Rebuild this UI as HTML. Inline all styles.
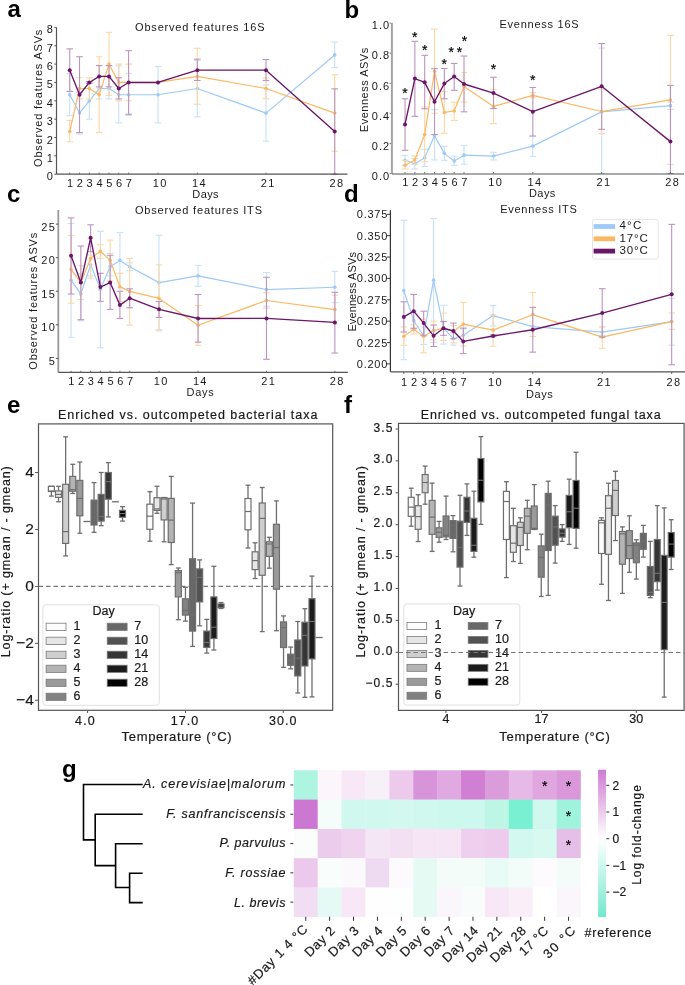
<!DOCTYPE html>
<html><head><meta charset="utf-8"><title>Figure</title>
<style>
html,body{margin:0;padding:0;background:#fff;}
body{width:685px;height:985px;overflow:hidden;}
svg{display:block;font-family:"Liberation Sans", sans-serif;will-change:transform;}
</style></head>
<body>
<svg width="685" height="985" viewBox="0 0 685 985" fill="#1a1a1a">
<rect x="0" y="0" width="685" height="985" fill="#fff"/>
<text x="7.50" y="17.20" font-size="24" text-anchor="start" font-weight="bold" fill="#000" >a</text>
<text x="344.50" y="17.50" font-size="24" text-anchor="start" font-weight="bold" fill="#000" >b</text>
<text x="7.00" y="201.90" font-size="24" text-anchor="start" font-weight="bold" fill="#000" >c</text>
<text x="344.00" y="201.90" font-size="24" text-anchor="start" font-weight="bold" fill="#000" >d</text>
<text x="7.00" y="412.60" font-size="24" text-anchor="start" font-weight="bold" fill="#000" >e</text>
<text x="344.00" y="412.70" font-size="24" text-anchor="start" font-weight="bold" fill="#000" >f</text>
<text x="62.00" y="776.60" font-size="24" text-anchor="start" font-weight="bold" fill="#000" >g</text>
<line x1="69.72" y1="115.66" x2="69.72" y2="73.46" stroke="#c8e0f9" stroke-width="1.1" />
<line x1="66.42" y1="115.66" x2="73.02" y2="115.66" stroke="#c8e0f9" stroke-width="1.1" />
<line x1="66.42" y1="73.46" x2="73.02" y2="73.46" stroke="#c8e0f9" stroke-width="1.1" />
<line x1="79.53" y1="133.83" x2="79.53" y2="92.18" stroke="#c8e0f9" stroke-width="1.1" />
<line x1="76.23" y1="133.83" x2="82.83" y2="133.83" stroke="#c8e0f9" stroke-width="1.1" />
<line x1="76.23" y1="92.18" x2="82.83" y2="92.18" stroke="#c8e0f9" stroke-width="1.1" />
<line x1="89.34" y1="119.15" x2="89.34" y2="82.45" stroke="#c8e0f9" stroke-width="1.1" />
<line x1="86.05" y1="119.15" x2="92.64" y2="119.15" stroke="#c8e0f9" stroke-width="1.1" />
<line x1="86.05" y1="82.45" x2="92.64" y2="82.45" stroke="#c8e0f9" stroke-width="1.1" />
<line x1="99.16" y1="98.96" x2="99.16" y2="77.50" stroke="#c8e0f9" stroke-width="1.1" />
<line x1="95.86" y1="98.96" x2="102.46" y2="98.96" stroke="#c8e0f9" stroke-width="1.1" />
<line x1="95.86" y1="77.50" x2="102.46" y2="77.50" stroke="#c8e0f9" stroke-width="1.1" />
<line x1="108.97" y1="98.96" x2="108.97" y2="77.50" stroke="#c8e0f9" stroke-width="1.1" />
<line x1="105.67" y1="98.96" x2="112.27" y2="98.96" stroke="#c8e0f9" stroke-width="1.1" />
<line x1="105.67" y1="77.50" x2="112.27" y2="77.50" stroke="#c8e0f9" stroke-width="1.1" />
<line x1="118.79" y1="122.82" x2="118.79" y2="65.93" stroke="#c8e0f9" stroke-width="1.1" />
<line x1="115.49" y1="122.82" x2="122.09" y2="122.82" stroke="#c8e0f9" stroke-width="1.1" />
<line x1="115.49" y1="65.93" x2="122.09" y2="65.93" stroke="#c8e0f9" stroke-width="1.1" />
<line x1="128.60" y1="115.48" x2="128.60" y2="73.46" stroke="#c8e0f9" stroke-width="1.1" />
<line x1="125.30" y1="115.48" x2="131.91" y2="115.48" stroke="#c8e0f9" stroke-width="1.1" />
<line x1="125.30" y1="73.46" x2="131.91" y2="73.46" stroke="#c8e0f9" stroke-width="1.1" />
<line x1="158.05" y1="122.82" x2="158.05" y2="66.49" stroke="#c8e0f9" stroke-width="1.1" />
<line x1="154.75" y1="122.82" x2="161.35" y2="122.82" stroke="#c8e0f9" stroke-width="1.1" />
<line x1="154.75" y1="66.49" x2="161.35" y2="66.49" stroke="#c8e0f9" stroke-width="1.1" />
<line x1="197.31" y1="116.76" x2="197.31" y2="60.43" stroke="#c8e0f9" stroke-width="1.1" />
<line x1="194.01" y1="116.76" x2="200.61" y2="116.76" stroke="#c8e0f9" stroke-width="1.1" />
<line x1="194.01" y1="60.43" x2="200.61" y2="60.43" stroke="#c8e0f9" stroke-width="1.1" />
<line x1="266.01" y1="141.17" x2="266.01" y2="84.84" stroke="#c8e0f9" stroke-width="1.1" />
<line x1="262.71" y1="141.17" x2="269.31" y2="141.17" stroke="#c8e0f9" stroke-width="1.1" />
<line x1="262.71" y1="84.84" x2="269.31" y2="84.84" stroke="#c8e0f9" stroke-width="1.1" />
<line x1="334.72" y1="67.59" x2="334.72" y2="42.08" stroke="#c8e0f9" stroke-width="1.1" />
<line x1="331.42" y1="67.59" x2="338.02" y2="67.59" stroke="#c8e0f9" stroke-width="1.1" />
<line x1="331.42" y1="42.08" x2="338.02" y2="42.08" stroke="#c8e0f9" stroke-width="1.1" />
<polyline points="69.72,94.74 79.53,113.09 89.34,100.80 99.16,88.51 108.97,88.51 118.79,94.74 128.60,94.74 158.05,94.74 197.31,88.51 266.01,113.09 334.72,54.92" fill="none" stroke="#9dcaf6" stroke-width="1.2" stroke-linejoin="round"/>
<circle cx="69.72" cy="94.74" r="1.8" fill="#9dcaf6"/>
<circle cx="79.53" cy="113.09" r="1.8" fill="#9dcaf6"/>
<circle cx="89.34" cy="100.80" r="1.8" fill="#9dcaf6"/>
<circle cx="99.16" cy="88.51" r="1.8" fill="#9dcaf6"/>
<circle cx="108.97" cy="88.51" r="1.8" fill="#9dcaf6"/>
<circle cx="118.79" cy="94.74" r="1.8" fill="#9dcaf6"/>
<circle cx="128.60" cy="94.74" r="1.8" fill="#9dcaf6"/>
<circle cx="158.05" cy="94.74" r="1.8" fill="#9dcaf6"/>
<circle cx="197.31" cy="88.51" r="1.8" fill="#9dcaf6"/>
<circle cx="266.01" cy="113.09" r="1.8" fill="#9dcaf6"/>
<circle cx="334.72" cy="54.92" r="1.8" fill="#9dcaf6"/>
<line x1="69.72" y1="141.72" x2="69.72" y2="120.43" stroke="#fcd7a4" stroke-width="1.1" />
<line x1="66.42" y1="141.72" x2="73.02" y2="141.72" stroke="#fcd7a4" stroke-width="1.1" />
<line x1="66.42" y1="120.43" x2="73.02" y2="120.43" stroke="#fcd7a4" stroke-width="1.1" />
<line x1="79.53" y1="98.96" x2="79.53" y2="77.68" stroke="#fcd7a4" stroke-width="1.1" />
<line x1="76.23" y1="98.96" x2="82.83" y2="98.96" stroke="#fcd7a4" stroke-width="1.1" />
<line x1="76.23" y1="77.68" x2="82.83" y2="77.68" stroke="#fcd7a4" stroke-width="1.1" />
<line x1="89.34" y1="98.96" x2="89.34" y2="77.68" stroke="#fcd7a4" stroke-width="1.1" />
<line x1="86.05" y1="98.96" x2="92.64" y2="98.96" stroke="#fcd7a4" stroke-width="1.1" />
<line x1="86.05" y1="77.68" x2="92.64" y2="77.68" stroke="#fcd7a4" stroke-width="1.1" />
<line x1="99.16" y1="132.55" x2="99.16" y2="56.76" stroke="#fcd7a4" stroke-width="1.1" />
<line x1="95.86" y1="132.55" x2="102.46" y2="132.55" stroke="#fcd7a4" stroke-width="1.1" />
<line x1="95.86" y1="56.76" x2="102.46" y2="56.76" stroke="#fcd7a4" stroke-width="1.1" />
<line x1="108.97" y1="95.48" x2="108.97" y2="32.35" stroke="#fcd7a4" stroke-width="1.1" />
<line x1="105.67" y1="95.48" x2="112.27" y2="95.48" stroke="#fcd7a4" stroke-width="1.1" />
<line x1="105.67" y1="32.35" x2="112.27" y2="32.35" stroke="#fcd7a4" stroke-width="1.1" />
<line x1="118.79" y1="100.80" x2="118.79" y2="64.10" stroke="#fcd7a4" stroke-width="1.1" />
<line x1="115.49" y1="100.80" x2="122.09" y2="100.80" stroke="#fcd7a4" stroke-width="1.1" />
<line x1="115.49" y1="64.10" x2="122.09" y2="64.10" stroke="#fcd7a4" stroke-width="1.1" />
<line x1="128.60" y1="100.80" x2="128.60" y2="64.10" stroke="#fcd7a4" stroke-width="1.1" />
<line x1="125.30" y1="100.80" x2="131.91" y2="100.80" stroke="#fcd7a4" stroke-width="1.1" />
<line x1="125.30" y1="64.10" x2="131.91" y2="64.10" stroke="#fcd7a4" stroke-width="1.1" />
<line x1="197.31" y1="104.29" x2="197.31" y2="48.32" stroke="#fcd7a4" stroke-width="1.1" />
<line x1="194.01" y1="104.29" x2="200.61" y2="104.29" stroke="#fcd7a4" stroke-width="1.1" />
<line x1="194.01" y1="48.32" x2="200.61" y2="48.32" stroke="#fcd7a4" stroke-width="1.1" />
<line x1="266.01" y1="98.78" x2="266.01" y2="78.05" stroke="#fcd7a4" stroke-width="1.1" />
<line x1="262.71" y1="98.78" x2="269.31" y2="98.78" stroke="#fcd7a4" stroke-width="1.1" />
<line x1="262.71" y1="78.05" x2="269.31" y2="78.05" stroke="#fcd7a4" stroke-width="1.1" />
<line x1="334.72" y1="151.26" x2="334.72" y2="74.74" stroke="#fcd7a4" stroke-width="1.1" />
<line x1="331.42" y1="151.26" x2="338.02" y2="151.26" stroke="#fcd7a4" stroke-width="1.1" />
<line x1="331.42" y1="74.74" x2="338.02" y2="74.74" stroke="#fcd7a4" stroke-width="1.1" />
<polyline points="69.72,131.44 79.53,88.51 89.34,88.51 99.16,94.74 108.97,64.10 118.79,82.45 128.60,82.45 158.05,82.45 197.31,76.39 266.01,88.51 334.72,113.09" fill="none" stroke="#fbb862" stroke-width="1.2" stroke-linejoin="round"/>
<circle cx="69.72" cy="131.44" r="1.8" fill="#fbb862"/>
<circle cx="79.53" cy="88.51" r="1.8" fill="#fbb862"/>
<circle cx="89.34" cy="88.51" r="1.8" fill="#fbb862"/>
<circle cx="99.16" cy="94.74" r="1.8" fill="#fbb862"/>
<circle cx="108.97" cy="64.10" r="1.8" fill="#fbb862"/>
<circle cx="118.79" cy="82.45" r="1.8" fill="#fbb862"/>
<circle cx="128.60" cy="82.45" r="1.8" fill="#fbb862"/>
<circle cx="158.05" cy="82.45" r="1.8" fill="#fbb862"/>
<circle cx="197.31" cy="76.39" r="1.8" fill="#fbb862"/>
<circle cx="266.01" cy="88.51" r="1.8" fill="#fbb862"/>
<circle cx="334.72" cy="113.09" r="1.8" fill="#fbb862"/>
<line x1="69.72" y1="91.44" x2="69.72" y2="48.87" stroke="#bc94be" stroke-width="1.1" />
<line x1="66.42" y1="91.44" x2="73.02" y2="91.44" stroke="#bc94be" stroke-width="1.1" />
<line x1="66.42" y1="48.87" x2="73.02" y2="48.87" stroke="#bc94be" stroke-width="1.1" />
<line x1="79.53" y1="132.55" x2="79.53" y2="56.76" stroke="#bc94be" stroke-width="1.1" />
<line x1="76.23" y1="132.55" x2="82.83" y2="132.55" stroke="#bc94be" stroke-width="1.1" />
<line x1="76.23" y1="56.76" x2="82.83" y2="56.76" stroke="#bc94be" stroke-width="1.1" />
<line x1="89.34" y1="83.37" x2="89.34" y2="81.53" stroke="#bc94be" stroke-width="1.1" />
<line x1="86.05" y1="83.37" x2="92.64" y2="83.37" stroke="#bc94be" stroke-width="1.1" />
<line x1="86.05" y1="81.53" x2="92.64" y2="81.53" stroke="#bc94be" stroke-width="1.1" />
<line x1="99.16" y1="86.85" x2="99.16" y2="65.57" stroke="#bc94be" stroke-width="1.1" />
<line x1="95.86" y1="86.85" x2="102.46" y2="86.85" stroke="#bc94be" stroke-width="1.1" />
<line x1="95.86" y1="65.57" x2="102.46" y2="65.57" stroke="#bc94be" stroke-width="1.1" />
<line x1="108.97" y1="86.85" x2="108.97" y2="65.57" stroke="#bc94be" stroke-width="1.1" />
<line x1="105.67" y1="86.85" x2="112.27" y2="86.85" stroke="#bc94be" stroke-width="1.1" />
<line x1="105.67" y1="65.57" x2="112.27" y2="65.57" stroke="#bc94be" stroke-width="1.1" />
<line x1="118.79" y1="98.96" x2="118.79" y2="77.68" stroke="#bc94be" stroke-width="1.1" />
<line x1="115.49" y1="98.96" x2="122.09" y2="98.96" stroke="#bc94be" stroke-width="1.1" />
<line x1="115.49" y1="77.68" x2="122.09" y2="77.68" stroke="#bc94be" stroke-width="1.1" />
<line x1="128.60" y1="114.20" x2="128.60" y2="50.70" stroke="#bc94be" stroke-width="1.1" />
<line x1="125.30" y1="114.20" x2="131.91" y2="114.20" stroke="#bc94be" stroke-width="1.1" />
<line x1="125.30" y1="50.70" x2="131.91" y2="50.70" stroke="#bc94be" stroke-width="1.1" />
<line x1="197.31" y1="80.43" x2="197.31" y2="59.15" stroke="#bc94be" stroke-width="1.1" />
<line x1="194.01" y1="80.43" x2="200.61" y2="80.43" stroke="#bc94be" stroke-width="1.1" />
<line x1="194.01" y1="59.15" x2="200.61" y2="59.15" stroke="#bc94be" stroke-width="1.1" />
<line x1="266.01" y1="80.61" x2="266.01" y2="59.51" stroke="#bc94be" stroke-width="1.1" />
<line x1="262.71" y1="80.61" x2="269.31" y2="80.61" stroke="#bc94be" stroke-width="1.1" />
<line x1="262.71" y1="59.51" x2="269.31" y2="59.51" stroke="#bc94be" stroke-width="1.1" />
<line x1="334.72" y1="174.20" x2="334.72" y2="88.87" stroke="#bc94be" stroke-width="1.1" />
<line x1="331.42" y1="174.20" x2="338.02" y2="174.20" stroke="#bc94be" stroke-width="1.1" />
<line x1="331.42" y1="88.87" x2="338.02" y2="88.87" stroke="#bc94be" stroke-width="1.1" />
<polyline points="69.72,70.16 79.53,94.74 89.34,82.45 99.16,76.39 108.97,76.39 118.79,88.51 128.60,82.45 158.05,82.45 197.31,70.16 266.01,70.16 334.72,131.44" fill="none" stroke="#6b1669" stroke-width="1.35" stroke-linejoin="round"/>
<circle cx="69.72" cy="70.16" r="2.0" fill="#6b1669"/>
<circle cx="79.53" cy="94.74" r="2.0" fill="#6b1669"/>
<circle cx="89.34" cy="82.45" r="2.0" fill="#6b1669"/>
<circle cx="99.16" cy="76.39" r="2.0" fill="#6b1669"/>
<circle cx="108.97" cy="76.39" r="2.0" fill="#6b1669"/>
<circle cx="118.79" cy="88.51" r="2.0" fill="#6b1669"/>
<circle cx="128.60" cy="82.45" r="2.0" fill="#6b1669"/>
<circle cx="158.05" cy="82.45" r="2.0" fill="#6b1669"/>
<circle cx="197.31" cy="70.16" r="2.0" fill="#6b1669"/>
<circle cx="266.01" cy="70.16" r="2.0" fill="#6b1669"/>
<circle cx="334.72" cy="131.44" r="2.0" fill="#6b1669"/>
<line x1="56.50" y1="27.40" x2="56.50" y2="174.20" stroke="#555" stroke-width="1.2" />
<line x1="56.50" y1="174.20" x2="347.50" y2="174.20" stroke="#555" stroke-width="1.2" />
<line x1="54.30" y1="174.20" x2="56.50" y2="174.20" stroke="#555" stroke-width="1" />
<text x="52.80" y="180.20" font-size="11" text-anchor="end" >0</text>
<line x1="54.30" y1="155.85" x2="56.50" y2="155.85" stroke="#555" stroke-width="1" />
<text x="52.80" y="161.85" font-size="11" text-anchor="end" >1</text>
<line x1="54.30" y1="137.50" x2="56.50" y2="137.50" stroke="#555" stroke-width="1" />
<text x="52.80" y="143.50" font-size="11" text-anchor="end" >2</text>
<line x1="54.30" y1="119.15" x2="56.50" y2="119.15" stroke="#555" stroke-width="1" />
<text x="52.80" y="125.15" font-size="11" text-anchor="end" >3</text>
<line x1="54.30" y1="100.80" x2="56.50" y2="100.80" stroke="#555" stroke-width="1" />
<text x="52.80" y="106.80" font-size="11" text-anchor="end" >4</text>
<line x1="54.30" y1="82.45" x2="56.50" y2="82.45" stroke="#555" stroke-width="1" />
<text x="52.80" y="88.45" font-size="11" text-anchor="end" >5</text>
<line x1="54.30" y1="64.10" x2="56.50" y2="64.10" stroke="#555" stroke-width="1" />
<text x="52.80" y="70.10" font-size="11" text-anchor="end" >6</text>
<line x1="54.30" y1="45.75" x2="56.50" y2="45.75" stroke="#555" stroke-width="1" />
<text x="52.80" y="51.75" font-size="11" text-anchor="end" >7</text>
<line x1="54.30" y1="27.40" x2="56.50" y2="27.40" stroke="#555" stroke-width="1" />
<text x="52.80" y="33.40" font-size="11" text-anchor="end" >8</text>
<line x1="69.72" y1="172.60" x2="69.72" y2="174.20" stroke="#555" stroke-width="0.8" />
<text x="70.02" y="186.70" font-size="11" text-anchor="middle" >1</text>
<line x1="79.53" y1="172.60" x2="79.53" y2="174.20" stroke="#555" stroke-width="0.8" />
<text x="79.83" y="186.70" font-size="11" text-anchor="middle" >2</text>
<line x1="89.34" y1="172.60" x2="89.34" y2="174.20" stroke="#555" stroke-width="0.8" />
<text x="89.64" y="186.70" font-size="11" text-anchor="middle" >3</text>
<line x1="99.16" y1="172.60" x2="99.16" y2="174.20" stroke="#555" stroke-width="0.8" />
<text x="99.46" y="186.70" font-size="11" text-anchor="middle" >4</text>
<line x1="108.97" y1="172.60" x2="108.97" y2="174.20" stroke="#555" stroke-width="0.8" />
<text x="109.27" y="186.70" font-size="11" text-anchor="middle" >5</text>
<line x1="118.79" y1="172.60" x2="118.79" y2="174.20" stroke="#555" stroke-width="0.8" />
<text x="119.09" y="186.70" font-size="11" text-anchor="middle" >6</text>
<line x1="128.60" y1="172.60" x2="128.60" y2="174.20" stroke="#555" stroke-width="0.8" />
<text x="128.91" y="186.70" font-size="11" text-anchor="middle" >7</text>
<line x1="158.05" y1="172.60" x2="158.05" y2="174.20" stroke="#555" stroke-width="0.8" />
<text x="159.65" y="186.70" font-size="11" text-anchor="middle" textLength="13.60" lengthAdjust="spacing" >10</text>
<line x1="197.31" y1="172.60" x2="197.31" y2="174.20" stroke="#555" stroke-width="0.8" />
<text x="198.91" y="186.70" font-size="11" text-anchor="middle" textLength="13.60" lengthAdjust="spacing" >14</text>
<line x1="266.01" y1="172.60" x2="266.01" y2="174.20" stroke="#555" stroke-width="0.8" />
<text x="267.62" y="186.70" font-size="11" text-anchor="middle" textLength="13.60" lengthAdjust="spacing" >21</text>
<line x1="334.72" y1="172.60" x2="334.72" y2="174.20" stroke="#555" stroke-width="0.8" />
<text x="336.32" y="186.70" font-size="11" text-anchor="middle" textLength="13.60" lengthAdjust="spacing" >28</text>
<text x="135.00" y="30.60" font-size="11" text-anchor="start" textLength="129.50" lengthAdjust="spacing" >Observed features 16S</text>
<text x="192.30" y="197.50" font-size="11" text-anchor="start" textLength="26.30" lengthAdjust="spacing" >Days</text>
<text x="42.00" y="166.90" font-size="11" text-anchor="start" textLength="137.20" lengthAdjust="spacing" transform="rotate(-90 42.00 166.90)" >Observed features ASVs</text>
<line x1="405.03" y1="165.23" x2="405.03" y2="155.45" stroke="#c8e0f9" stroke-width="1.1" />
<line x1="401.73" y1="165.23" x2="408.33" y2="165.23" stroke="#c8e0f9" stroke-width="1.1" />
<line x1="401.73" y1="155.45" x2="408.33" y2="155.45" stroke="#c8e0f9" stroke-width="1.1" />
<line x1="414.86" y1="168.99" x2="414.86" y2="158.46" stroke="#c8e0f9" stroke-width="1.1" />
<line x1="411.56" y1="168.99" x2="418.16" y2="168.99" stroke="#c8e0f9" stroke-width="1.1" />
<line x1="411.56" y1="158.46" x2="418.16" y2="158.46" stroke="#c8e0f9" stroke-width="1.1" />
<line x1="424.69" y1="166.43" x2="424.69" y2="149.29" stroke="#c8e0f9" stroke-width="1.1" />
<line x1="421.39" y1="166.43" x2="427.99" y2="166.43" stroke="#c8e0f9" stroke-width="1.1" />
<line x1="421.39" y1="149.29" x2="427.99" y2="149.29" stroke="#c8e0f9" stroke-width="1.1" />
<line x1="434.52" y1="159.96" x2="434.52" y2="109.58" stroke="#c8e0f9" stroke-width="1.1" />
<line x1="431.22" y1="159.96" x2="437.82" y2="159.96" stroke="#c8e0f9" stroke-width="1.1" />
<line x1="431.22" y1="109.58" x2="437.82" y2="109.58" stroke="#c8e0f9" stroke-width="1.1" />
<line x1="444.35" y1="160.26" x2="444.35" y2="146.43" stroke="#c8e0f9" stroke-width="1.1" />
<line x1="441.05" y1="160.26" x2="447.65" y2="160.26" stroke="#c8e0f9" stroke-width="1.1" />
<line x1="441.05" y1="146.43" x2="447.65" y2="146.43" stroke="#c8e0f9" stroke-width="1.1" />
<line x1="454.18" y1="165.38" x2="454.18" y2="156.20" stroke="#c8e0f9" stroke-width="1.1" />
<line x1="450.88" y1="165.38" x2="457.48" y2="165.38" stroke="#c8e0f9" stroke-width="1.1" />
<line x1="450.88" y1="156.20" x2="457.48" y2="156.20" stroke="#c8e0f9" stroke-width="1.1" />
<line x1="464.01" y1="164.18" x2="464.01" y2="145.38" stroke="#c8e0f9" stroke-width="1.1" />
<line x1="460.71" y1="164.18" x2="467.31" y2="164.18" stroke="#c8e0f9" stroke-width="1.1" />
<line x1="460.71" y1="145.38" x2="467.31" y2="145.38" stroke="#c8e0f9" stroke-width="1.1" />
<line x1="493.50" y1="159.96" x2="493.50" y2="152.29" stroke="#c8e0f9" stroke-width="1.1" />
<line x1="490.20" y1="159.96" x2="496.80" y2="159.96" stroke="#c8e0f9" stroke-width="1.1" />
<line x1="490.20" y1="152.29" x2="496.80" y2="152.29" stroke="#c8e0f9" stroke-width="1.1" />
<line x1="532.82" y1="156.35" x2="532.82" y2="135.90" stroke="#c8e0f9" stroke-width="1.1" />
<line x1="529.52" y1="156.35" x2="536.12" y2="156.35" stroke="#c8e0f9" stroke-width="1.1" />
<line x1="529.52" y1="135.90" x2="536.12" y2="135.90" stroke="#c8e0f9" stroke-width="1.1" />
<line x1="601.63" y1="173.50" x2="601.63" y2="48.07" stroke="#c8e0f9" stroke-width="1.1" />
<line x1="598.33" y1="173.50" x2="604.93" y2="173.50" stroke="#c8e0f9" stroke-width="1.1" />
<line x1="598.33" y1="48.07" x2="604.93" y2="48.07" stroke="#c8e0f9" stroke-width="1.1" />
<line x1="670.44" y1="109.43" x2="670.44" y2="102.06" stroke="#c8e0f9" stroke-width="1.1" />
<line x1="667.14" y1="109.43" x2="673.74" y2="109.43" stroke="#c8e0f9" stroke-width="1.1" />
<line x1="667.14" y1="102.06" x2="673.74" y2="102.06" stroke="#c8e0f9" stroke-width="1.1" />
<polyline points="405.03,160.26 414.86,163.72 424.69,157.71 434.52,135.75 444.35,153.35 454.18,161.02 464.01,155.15 493.50,156.05 532.82,146.13 601.63,111.84 670.44,105.67" fill="none" stroke="#9dcaf6" stroke-width="1.2" stroke-linejoin="round"/>
<circle cx="405.03" cy="160.26" r="1.8" fill="#9dcaf6"/>
<circle cx="414.86" cy="163.72" r="1.8" fill="#9dcaf6"/>
<circle cx="424.69" cy="157.71" r="1.8" fill="#9dcaf6"/>
<circle cx="434.52" cy="135.75" r="1.8" fill="#9dcaf6"/>
<circle cx="444.35" cy="153.35" r="1.8" fill="#9dcaf6"/>
<circle cx="454.18" cy="161.02" r="1.8" fill="#9dcaf6"/>
<circle cx="464.01" cy="155.15" r="1.8" fill="#9dcaf6"/>
<circle cx="493.50" cy="156.05" r="1.8" fill="#9dcaf6"/>
<circle cx="532.82" cy="146.13" r="1.8" fill="#9dcaf6"/>
<circle cx="601.63" cy="111.84" r="1.8" fill="#9dcaf6"/>
<circle cx="670.44" cy="105.67" r="1.8" fill="#9dcaf6"/>
<line x1="405.03" y1="168.99" x2="405.03" y2="160.26" stroke="#fcd7a4" stroke-width="1.1" />
<line x1="401.73" y1="168.99" x2="408.33" y2="168.99" stroke="#fcd7a4" stroke-width="1.1" />
<line x1="401.73" y1="160.26" x2="408.33" y2="160.26" stroke="#fcd7a4" stroke-width="1.1" />
<line x1="414.86" y1="164.48" x2="414.86" y2="155.90" stroke="#fcd7a4" stroke-width="1.1" />
<line x1="411.56" y1="164.48" x2="418.16" y2="164.48" stroke="#fcd7a4" stroke-width="1.1" />
<line x1="411.56" y1="155.90" x2="418.16" y2="155.90" stroke="#fcd7a4" stroke-width="1.1" />
<line x1="424.69" y1="161.77" x2="424.69" y2="107.02" stroke="#fcd7a4" stroke-width="1.1" />
<line x1="421.39" y1="161.77" x2="427.99" y2="161.77" stroke="#fcd7a4" stroke-width="1.1" />
<line x1="421.39" y1="107.02" x2="427.99" y2="107.02" stroke="#fcd7a4" stroke-width="1.1" />
<line x1="434.52" y1="113.34" x2="434.52" y2="29.12" stroke="#fcd7a4" stroke-width="1.1" />
<line x1="431.22" y1="113.34" x2="437.82" y2="113.34" stroke="#fcd7a4" stroke-width="1.1" />
<line x1="431.22" y1="29.12" x2="437.82" y2="29.12" stroke="#fcd7a4" stroke-width="1.1" />
<line x1="444.35" y1="133.34" x2="444.35" y2="91.53" stroke="#fcd7a4" stroke-width="1.1" />
<line x1="441.05" y1="133.34" x2="447.65" y2="133.34" stroke="#fcd7a4" stroke-width="1.1" />
<line x1="441.05" y1="91.53" x2="447.65" y2="91.53" stroke="#fcd7a4" stroke-width="1.1" />
<line x1="454.18" y1="120.41" x2="454.18" y2="102.21" stroke="#fcd7a4" stroke-width="1.1" />
<line x1="450.88" y1="120.41" x2="457.48" y2="120.41" stroke="#fcd7a4" stroke-width="1.1" />
<line x1="450.88" y1="102.21" x2="457.48" y2="102.21" stroke="#fcd7a4" stroke-width="1.1" />
<line x1="464.01" y1="102.06" x2="464.01" y2="72.43" stroke="#fcd7a4" stroke-width="1.1" />
<line x1="460.71" y1="102.06" x2="467.31" y2="102.06" stroke="#fcd7a4" stroke-width="1.1" />
<line x1="460.71" y1="72.43" x2="467.31" y2="72.43" stroke="#fcd7a4" stroke-width="1.1" />
<line x1="493.50" y1="123.57" x2="493.50" y2="89.43" stroke="#fcd7a4" stroke-width="1.1" />
<line x1="490.20" y1="123.57" x2="496.80" y2="123.57" stroke="#fcd7a4" stroke-width="1.1" />
<line x1="490.20" y1="89.43" x2="496.80" y2="89.43" stroke="#fcd7a4" stroke-width="1.1" />
<line x1="532.82" y1="97.85" x2="532.82" y2="92.74" stroke="#fcd7a4" stroke-width="1.1" />
<line x1="529.52" y1="97.85" x2="536.12" y2="97.85" stroke="#fcd7a4" stroke-width="1.1" />
<line x1="529.52" y1="92.74" x2="536.12" y2="92.74" stroke="#fcd7a4" stroke-width="1.1" />
<line x1="601.63" y1="133.34" x2="601.63" y2="89.13" stroke="#fcd7a4" stroke-width="1.1" />
<line x1="598.33" y1="133.34" x2="604.93" y2="133.34" stroke="#fcd7a4" stroke-width="1.1" />
<line x1="598.33" y1="89.13" x2="604.93" y2="89.13" stroke="#fcd7a4" stroke-width="1.1" />
<line x1="670.44" y1="164.48" x2="670.44" y2="35.43" stroke="#fcd7a4" stroke-width="1.1" />
<line x1="667.14" y1="164.48" x2="673.74" y2="164.48" stroke="#fcd7a4" stroke-width="1.1" />
<line x1="667.14" y1="35.43" x2="673.74" y2="35.43" stroke="#fcd7a4" stroke-width="1.1" />
<polyline points="405.03,165.23 414.86,159.96 424.69,134.55 434.52,71.23 444.35,112.44 454.18,110.93 464.01,86.57 493.50,106.42 532.82,95.44 601.63,111.54 670.44,99.95" fill="none" stroke="#fbb862" stroke-width="1.2" stroke-linejoin="round"/>
<circle cx="405.03" cy="165.23" r="1.8" fill="#fbb862"/>
<circle cx="414.86" cy="159.96" r="1.8" fill="#fbb862"/>
<circle cx="424.69" cy="134.55" r="1.8" fill="#fbb862"/>
<circle cx="434.52" cy="71.23" r="1.8" fill="#fbb862"/>
<circle cx="444.35" cy="112.44" r="1.8" fill="#fbb862"/>
<circle cx="454.18" cy="110.93" r="1.8" fill="#fbb862"/>
<circle cx="464.01" cy="86.57" r="1.8" fill="#fbb862"/>
<circle cx="493.50" cy="106.42" r="1.8" fill="#fbb862"/>
<circle cx="532.82" cy="95.44" r="1.8" fill="#fbb862"/>
<circle cx="601.63" cy="111.54" r="1.8" fill="#fbb862"/>
<circle cx="670.44" cy="99.95" r="1.8" fill="#fbb862"/>
<line x1="405.03" y1="150.34" x2="405.03" y2="98.75" stroke="#bc94be" stroke-width="1.1" />
<line x1="401.73" y1="150.34" x2="408.33" y2="150.34" stroke="#bc94be" stroke-width="1.1" />
<line x1="401.73" y1="98.75" x2="408.33" y2="98.75" stroke="#bc94be" stroke-width="1.1" />
<line x1="414.86" y1="116.35" x2="414.86" y2="41.30" stroke="#bc94be" stroke-width="1.1" />
<line x1="411.56" y1="116.35" x2="418.16" y2="116.35" stroke="#bc94be" stroke-width="1.1" />
<line x1="411.56" y1="41.30" x2="418.16" y2="41.30" stroke="#bc94be" stroke-width="1.1" />
<line x1="424.69" y1="108.83" x2="424.69" y2="55.29" stroke="#bc94be" stroke-width="1.1" />
<line x1="421.39" y1="108.83" x2="427.99" y2="108.83" stroke="#bc94be" stroke-width="1.1" />
<line x1="421.39" y1="55.29" x2="427.99" y2="55.29" stroke="#bc94be" stroke-width="1.1" />
<line x1="434.52" y1="134.55" x2="434.52" y2="68.67" stroke="#bc94be" stroke-width="1.1" />
<line x1="431.22" y1="134.55" x2="437.82" y2="134.55" stroke="#bc94be" stroke-width="1.1" />
<line x1="431.22" y1="68.67" x2="437.82" y2="68.67" stroke="#bc94be" stroke-width="1.1" />
<line x1="444.35" y1="98.75" x2="444.35" y2="68.52" stroke="#bc94be" stroke-width="1.1" />
<line x1="441.05" y1="98.75" x2="447.65" y2="98.75" stroke="#bc94be" stroke-width="1.1" />
<line x1="441.05" y1="68.52" x2="447.65" y2="68.52" stroke="#bc94be" stroke-width="1.1" />
<line x1="454.18" y1="90.33" x2="454.18" y2="63.41" stroke="#bc94be" stroke-width="1.1" />
<line x1="450.88" y1="90.33" x2="457.48" y2="90.33" stroke="#bc94be" stroke-width="1.1" />
<line x1="450.88" y1="63.41" x2="457.48" y2="63.41" stroke="#bc94be" stroke-width="1.1" />
<line x1="464.01" y1="111.84" x2="464.01" y2="56.04" stroke="#bc94be" stroke-width="1.1" />
<line x1="460.71" y1="111.84" x2="467.31" y2="111.84" stroke="#bc94be" stroke-width="1.1" />
<line x1="460.71" y1="56.04" x2="467.31" y2="56.04" stroke="#bc94be" stroke-width="1.1" />
<line x1="493.50" y1="108.53" x2="493.50" y2="77.24" stroke="#bc94be" stroke-width="1.1" />
<line x1="490.20" y1="108.53" x2="496.80" y2="108.53" stroke="#bc94be" stroke-width="1.1" />
<line x1="490.20" y1="77.24" x2="496.80" y2="77.24" stroke="#bc94be" stroke-width="1.1" />
<line x1="532.82" y1="136.05" x2="532.82" y2="87.47" stroke="#bc94be" stroke-width="1.1" />
<line x1="529.52" y1="136.05" x2="536.12" y2="136.05" stroke="#bc94be" stroke-width="1.1" />
<line x1="529.52" y1="87.47" x2="536.12" y2="87.47" stroke="#bc94be" stroke-width="1.1" />
<line x1="601.63" y1="129.28" x2="601.63" y2="43.55" stroke="#bc94be" stroke-width="1.1" />
<line x1="598.33" y1="129.28" x2="604.93" y2="129.28" stroke="#bc94be" stroke-width="1.1" />
<line x1="598.33" y1="43.55" x2="604.93" y2="43.55" stroke="#bc94be" stroke-width="1.1" />
<line x1="670.44" y1="173.50" x2="670.44" y2="85.37" stroke="#bc94be" stroke-width="1.1" />
<line x1="667.14" y1="173.50" x2="673.74" y2="173.50" stroke="#bc94be" stroke-width="1.1" />
<line x1="667.14" y1="85.37" x2="673.74" y2="85.37" stroke="#bc94be" stroke-width="1.1" />
<polyline points="405.03,124.47 414.86,78.60 424.69,82.36 434.52,101.76 444.35,83.56 454.18,76.49 464.01,84.01 493.50,93.04 532.82,111.69 601.63,86.27 670.44,141.62" fill="none" stroke="#6b1669" stroke-width="1.35" stroke-linejoin="round"/>
<circle cx="405.03" cy="124.47" r="2.0" fill="#6b1669"/>
<circle cx="414.86" cy="78.60" r="2.0" fill="#6b1669"/>
<circle cx="424.69" cy="82.36" r="2.0" fill="#6b1669"/>
<circle cx="434.52" cy="101.76" r="2.0" fill="#6b1669"/>
<circle cx="444.35" cy="83.56" r="2.0" fill="#6b1669"/>
<circle cx="454.18" cy="76.49" r="2.0" fill="#6b1669"/>
<circle cx="464.01" cy="84.01" r="2.0" fill="#6b1669"/>
<circle cx="493.50" cy="93.04" r="2.0" fill="#6b1669"/>
<circle cx="532.82" cy="111.69" r="2.0" fill="#6b1669"/>
<circle cx="601.63" cy="86.27" r="2.0" fill="#6b1669"/>
<circle cx="670.44" cy="141.62" r="2.0" fill="#6b1669"/>
<line x1="391.90" y1="22.80" x2="391.90" y2="174.00" stroke="#a3a3a3" stroke-width="2.0" />
<line x1="391.90" y1="174.00" x2="684.00" y2="174.00" stroke="#555" stroke-width="1.2" />
<line x1="389.60" y1="173.50" x2="391.00" y2="173.50" stroke="#555" stroke-width="0.8" />
<text x="389.20" y="179.80" font-size="11" text-anchor="end" textLength="17.40" lengthAdjust="spacing" >0.0</text>
<line x1="389.60" y1="143.42" x2="391.00" y2="143.42" stroke="#555" stroke-width="0.8" />
<text x="389.20" y="149.72" font-size="11" text-anchor="end" textLength="17.40" lengthAdjust="spacing" >0.2</text>
<line x1="389.60" y1="113.34" x2="391.00" y2="113.34" stroke="#555" stroke-width="0.8" />
<text x="389.20" y="119.64" font-size="11" text-anchor="end" textLength="17.40" lengthAdjust="spacing" >0.4</text>
<line x1="389.60" y1="83.26" x2="391.00" y2="83.26" stroke="#555" stroke-width="0.8" />
<text x="389.20" y="89.56" font-size="11" text-anchor="end" textLength="17.40" lengthAdjust="spacing" >0.6</text>
<line x1="389.60" y1="53.18" x2="391.00" y2="53.18" stroke="#555" stroke-width="0.8" />
<text x="389.20" y="59.48" font-size="11" text-anchor="end" textLength="17.40" lengthAdjust="spacing" >0.8</text>
<line x1="389.60" y1="23.10" x2="391.00" y2="23.10" stroke="#555" stroke-width="0.8" />
<text x="389.20" y="29.40" font-size="11" text-anchor="end" textLength="17.40" lengthAdjust="spacing" >1.0</text>
<line x1="405.03" y1="172.00" x2="405.03" y2="173.60" stroke="#555" stroke-width="0.8" />
<text x="405.33" y="185.60" font-size="11" text-anchor="middle" >1</text>
<line x1="414.86" y1="172.00" x2="414.86" y2="173.60" stroke="#555" stroke-width="0.8" />
<text x="415.16" y="185.60" font-size="11" text-anchor="middle" >2</text>
<line x1="424.69" y1="172.00" x2="424.69" y2="173.60" stroke="#555" stroke-width="0.8" />
<text x="424.99" y="185.60" font-size="11" text-anchor="middle" >3</text>
<line x1="434.52" y1="172.00" x2="434.52" y2="173.60" stroke="#555" stroke-width="0.8" />
<text x="434.82" y="185.60" font-size="11" text-anchor="middle" >4</text>
<line x1="444.35" y1="172.00" x2="444.35" y2="173.60" stroke="#555" stroke-width="0.8" />
<text x="444.65" y="185.60" font-size="11" text-anchor="middle" >5</text>
<line x1="454.18" y1="172.00" x2="454.18" y2="173.60" stroke="#555" stroke-width="0.8" />
<text x="454.48" y="185.60" font-size="11" text-anchor="middle" >6</text>
<line x1="464.01" y1="172.00" x2="464.01" y2="173.60" stroke="#555" stroke-width="0.8" />
<text x="464.31" y="185.60" font-size="11" text-anchor="middle" >7</text>
<line x1="493.50" y1="172.00" x2="493.50" y2="173.60" stroke="#555" stroke-width="0.8" />
<text x="495.10" y="185.60" font-size="11" text-anchor="middle" textLength="13.60" lengthAdjust="spacing" >10</text>
<line x1="532.82" y1="172.00" x2="532.82" y2="173.60" stroke="#555" stroke-width="0.8" />
<text x="534.42" y="185.60" font-size="11" text-anchor="middle" textLength="13.60" lengthAdjust="spacing" >14</text>
<line x1="601.63" y1="172.00" x2="601.63" y2="173.60" stroke="#555" stroke-width="0.8" />
<text x="603.23" y="185.60" font-size="11" text-anchor="middle" textLength="13.60" lengthAdjust="spacing" >21</text>
<line x1="670.44" y1="172.00" x2="670.44" y2="173.60" stroke="#555" stroke-width="0.8" />
<text x="672.04" y="185.60" font-size="11" text-anchor="middle" textLength="13.60" lengthAdjust="spacing" >28</text>
<text x="499.50" y="28.40" font-size="11" text-anchor="start" textLength="79.20" lengthAdjust="spacing" >Evenness 16S</text>
<text x="529.00" y="196.50" font-size="11" text-anchor="start" textLength="26.30" lengthAdjust="spacing" >Days</text>
<text x="368.00" y="132.20" font-size="11" text-anchor="start" textLength="84.40" lengthAdjust="spacing" transform="rotate(-90 368.00 132.20)" >Evenness ASVs</text>
<text x="404.90" y="98.20" font-size="14" text-anchor="middle" stroke="#000" stroke-width="0.2" fill="#000" >*</text>
<text x="414.70" y="41.90" font-size="14" text-anchor="middle" stroke="#000" stroke-width="0.2" fill="#000" >*</text>
<text x="424.70" y="55.00" font-size="14" text-anchor="middle" stroke="#000" stroke-width="0.2" fill="#000" >*</text>
<text x="444.30" y="68.80" font-size="14" text-anchor="middle" stroke="#000" stroke-width="0.2" fill="#000" >*</text>
<text x="451.20" y="57.40" font-size="14" text-anchor="middle" stroke="#000" stroke-width="0.2" fill="#000" >*</text>
<text x="459.40" y="57.40" font-size="14" text-anchor="middle" stroke="#000" stroke-width="0.2" fill="#000" >*</text>
<text x="464.60" y="45.50" font-size="14" text-anchor="middle" stroke="#000" stroke-width="0.2" fill="#000" >*</text>
<text x="493.50" y="74.30" font-size="14" text-anchor="middle" stroke="#000" stroke-width="0.2" fill="#000" >*</text>
<text x="532.80" y="84.80" font-size="14" text-anchor="middle" stroke="#000" stroke-width="0.2" fill="#000" >*</text>
<line x1="71.07" y1="337.27" x2="71.07" y2="223.45" stroke="#c8e0f9" stroke-width="1.1" />
<line x1="67.77" y1="337.27" x2="74.37" y2="337.27" stroke="#c8e0f9" stroke-width="1.1" />
<line x1="67.77" y1="223.45" x2="74.37" y2="223.45" stroke="#c8e0f9" stroke-width="1.1" />
<line x1="80.84" y1="320.82" x2="80.84" y2="273.82" stroke="#c8e0f9" stroke-width="1.1" />
<line x1="77.54" y1="320.82" x2="84.14" y2="320.82" stroke="#c8e0f9" stroke-width="1.1" />
<line x1="77.54" y1="273.82" x2="84.14" y2="273.82" stroke="#c8e0f9" stroke-width="1.1" />
<line x1="90.61" y1="275.83" x2="90.61" y2="255.01" stroke="#c8e0f9" stroke-width="1.1" />
<line x1="87.31" y1="275.83" x2="93.91" y2="275.83" stroke="#c8e0f9" stroke-width="1.1" />
<line x1="87.31" y1="255.01" x2="93.91" y2="255.01" stroke="#c8e0f9" stroke-width="1.1" />
<line x1="100.38" y1="347.82" x2="100.38" y2="231.31" stroke="#c8e0f9" stroke-width="1.1" />
<line x1="97.08" y1="347.82" x2="103.68" y2="347.82" stroke="#c8e0f9" stroke-width="1.1" />
<line x1="97.08" y1="231.31" x2="103.68" y2="231.31" stroke="#c8e0f9" stroke-width="1.1" />
<line x1="110.15" y1="275.83" x2="110.15" y2="253.40" stroke="#c8e0f9" stroke-width="1.1" />
<line x1="106.85" y1="275.83" x2="113.45" y2="275.83" stroke="#c8e0f9" stroke-width="1.1" />
<line x1="106.85" y1="253.40" x2="113.45" y2="253.40" stroke="#c8e0f9" stroke-width="1.1" />
<line x1="119.92" y1="287.92" x2="119.92" y2="232.59" stroke="#c8e0f9" stroke-width="1.1" />
<line x1="116.62" y1="287.92" x2="123.22" y2="287.92" stroke="#c8e0f9" stroke-width="1.1" />
<line x1="116.62" y1="232.59" x2="123.22" y2="232.59" stroke="#c8e0f9" stroke-width="1.1" />
<line x1="129.69" y1="270.73" x2="129.69" y2="262.80" stroke="#c8e0f9" stroke-width="1.1" />
<line x1="126.39" y1="270.73" x2="132.99" y2="270.73" stroke="#c8e0f9" stroke-width="1.1" />
<line x1="126.39" y1="262.80" x2="132.99" y2="262.80" stroke="#c8e0f9" stroke-width="1.1" />
<line x1="159.00" y1="329.55" x2="159.00" y2="235.34" stroke="#c8e0f9" stroke-width="1.1" />
<line x1="155.70" y1="329.55" x2="162.30" y2="329.55" stroke="#c8e0f9" stroke-width="1.1" />
<line x1="155.70" y1="235.34" x2="162.30" y2="235.34" stroke="#c8e0f9" stroke-width="1.1" />
<line x1="198.08" y1="286.31" x2="198.08" y2="265.42" stroke="#c8e0f9" stroke-width="1.1" />
<line x1="194.78" y1="286.31" x2="201.38" y2="286.31" stroke="#c8e0f9" stroke-width="1.1" />
<line x1="194.78" y1="265.42" x2="201.38" y2="265.42" stroke="#c8e0f9" stroke-width="1.1" />
<line x1="266.47" y1="306.32" x2="266.47" y2="272.47" stroke="#c8e0f9" stroke-width="1.1" />
<line x1="263.17" y1="306.32" x2="269.77" y2="306.32" stroke="#c8e0f9" stroke-width="1.1" />
<line x1="263.17" y1="272.47" x2="269.77" y2="272.47" stroke="#c8e0f9" stroke-width="1.1" />
<line x1="334.86" y1="302.69" x2="334.86" y2="271.33" stroke="#c8e0f9" stroke-width="1.1" />
<line x1="331.56" y1="302.69" x2="338.16" y2="302.69" stroke="#c8e0f9" stroke-width="1.1" />
<line x1="331.56" y1="271.33" x2="338.16" y2="271.33" stroke="#c8e0f9" stroke-width="1.1" />
<polyline points="71.07,280.20 80.84,293.96 90.61,264.82 100.38,289.13 110.15,266.83 119.92,260.39 129.69,266.83 159.00,282.61 198.08,275.90 266.47,289.53 334.86,287.25" fill="none" stroke="#9dcaf6" stroke-width="1.2" stroke-linejoin="round"/>
<circle cx="71.07" cy="280.20" r="1.8" fill="#9dcaf6"/>
<circle cx="80.84" cy="293.96" r="1.8" fill="#9dcaf6"/>
<circle cx="90.61" cy="264.82" r="1.8" fill="#9dcaf6"/>
<circle cx="100.38" cy="289.13" r="1.8" fill="#9dcaf6"/>
<circle cx="110.15" cy="266.83" r="1.8" fill="#9dcaf6"/>
<circle cx="119.92" cy="260.39" r="1.8" fill="#9dcaf6"/>
<circle cx="129.69" cy="266.83" r="1.8" fill="#9dcaf6"/>
<circle cx="159.00" cy="282.61" r="1.8" fill="#9dcaf6"/>
<circle cx="198.08" cy="275.90" r="1.8" fill="#9dcaf6"/>
<circle cx="266.47" cy="289.53" r="1.8" fill="#9dcaf6"/>
<circle cx="334.86" cy="287.25" r="1.8" fill="#9dcaf6"/>
<line x1="71.07" y1="303.23" x2="71.07" y2="235.54" stroke="#fcd7a4" stroke-width="1.1" />
<line x1="67.77" y1="303.23" x2="74.37" y2="303.23" stroke="#fcd7a4" stroke-width="1.1" />
<line x1="67.77" y1="235.54" x2="74.37" y2="235.54" stroke="#fcd7a4" stroke-width="1.1" />
<line x1="80.84" y1="299.60" x2="80.84" y2="265.76" stroke="#fcd7a4" stroke-width="1.1" />
<line x1="77.54" y1="299.60" x2="84.14" y2="299.60" stroke="#fcd7a4" stroke-width="1.1" />
<line x1="77.54" y1="265.76" x2="84.14" y2="265.76" stroke="#fcd7a4" stroke-width="1.1" />
<line x1="90.61" y1="278.18" x2="90.61" y2="238.50" stroke="#fcd7a4" stroke-width="1.1" />
<line x1="87.31" y1="278.18" x2="93.91" y2="278.18" stroke="#fcd7a4" stroke-width="1.1" />
<line x1="87.31" y1="238.50" x2="93.91" y2="238.50" stroke="#fcd7a4" stroke-width="1.1" />
<line x1="100.38" y1="258.51" x2="100.38" y2="244.74" stroke="#fcd7a4" stroke-width="1.1" />
<line x1="97.08" y1="258.51" x2="103.68" y2="258.51" stroke="#fcd7a4" stroke-width="1.1" />
<line x1="97.08" y1="244.74" x2="103.68" y2="244.74" stroke="#fcd7a4" stroke-width="1.1" />
<line x1="110.15" y1="280.80" x2="110.15" y2="240.11" stroke="#fcd7a4" stroke-width="1.1" />
<line x1="106.85" y1="280.80" x2="113.45" y2="280.80" stroke="#fcd7a4" stroke-width="1.1" />
<line x1="106.85" y1="240.11" x2="113.45" y2="240.11" stroke="#fcd7a4" stroke-width="1.1" />
<line x1="119.92" y1="301.48" x2="119.92" y2="273.28" stroke="#fcd7a4" stroke-width="1.1" />
<line x1="116.62" y1="301.48" x2="123.22" y2="301.48" stroke="#fcd7a4" stroke-width="1.1" />
<line x1="116.62" y1="273.28" x2="123.22" y2="273.28" stroke="#fcd7a4" stroke-width="1.1" />
<line x1="129.69" y1="325.19" x2="129.69" y2="258.51" stroke="#fcd7a4" stroke-width="1.1" />
<line x1="126.39" y1="325.19" x2="132.99" y2="325.19" stroke="#fcd7a4" stroke-width="1.1" />
<line x1="126.39" y1="258.51" x2="132.99" y2="258.51" stroke="#fcd7a4" stroke-width="1.1" />
<line x1="159.00" y1="330.89" x2="159.00" y2="264.89" stroke="#fcd7a4" stroke-width="1.1" />
<line x1="155.70" y1="330.89" x2="162.30" y2="330.89" stroke="#fcd7a4" stroke-width="1.1" />
<line x1="155.70" y1="264.89" x2="162.30" y2="264.89" stroke="#fcd7a4" stroke-width="1.1" />
<line x1="198.08" y1="345.33" x2="198.08" y2="305.51" stroke="#fcd7a4" stroke-width="1.1" />
<line x1="194.78" y1="345.33" x2="201.38" y2="345.33" stroke="#fcd7a4" stroke-width="1.1" />
<line x1="194.78" y1="305.51" x2="201.38" y2="305.51" stroke="#fcd7a4" stroke-width="1.1" />
<line x1="266.47" y1="308.20" x2="266.47" y2="292.82" stroke="#fcd7a4" stroke-width="1.1" />
<line x1="263.17" y1="308.20" x2="269.77" y2="308.20" stroke="#fcd7a4" stroke-width="1.1" />
<line x1="263.17" y1="292.82" x2="269.77" y2="292.82" stroke="#fcd7a4" stroke-width="1.1" />
<line x1="334.86" y1="323.91" x2="334.86" y2="295.37" stroke="#fcd7a4" stroke-width="1.1" />
<line x1="331.56" y1="323.91" x2="338.16" y2="323.91" stroke="#fcd7a4" stroke-width="1.1" />
<line x1="331.56" y1="295.37" x2="338.16" y2="295.37" stroke="#fcd7a4" stroke-width="1.1" />
<polyline points="71.07,269.38 80.84,282.55 90.61,258.51 100.38,251.19 110.15,260.39 119.92,286.78 129.69,291.41 159.00,298.39 198.08,325.19 266.47,300.47 334.86,309.61" fill="none" stroke="#fbb862" stroke-width="1.2" stroke-linejoin="round"/>
<circle cx="71.07" cy="269.38" r="1.8" fill="#fbb862"/>
<circle cx="80.84" cy="282.55" r="1.8" fill="#fbb862"/>
<circle cx="90.61" cy="258.51" r="1.8" fill="#fbb862"/>
<circle cx="100.38" cy="251.19" r="1.8" fill="#fbb862"/>
<circle cx="110.15" cy="260.39" r="1.8" fill="#fbb862"/>
<circle cx="119.92" cy="286.78" r="1.8" fill="#fbb862"/>
<circle cx="129.69" cy="291.41" r="1.8" fill="#fbb862"/>
<circle cx="159.00" cy="298.39" r="1.8" fill="#fbb862"/>
<circle cx="198.08" cy="325.19" r="1.8" fill="#fbb862"/>
<circle cx="266.47" cy="300.47" r="1.8" fill="#fbb862"/>
<circle cx="334.86" cy="309.61" r="1.8" fill="#fbb862"/>
<line x1="71.07" y1="293.96" x2="71.07" y2="217.88" stroke="#bc94be" stroke-width="1.1" />
<line x1="67.77" y1="293.96" x2="74.37" y2="293.96" stroke="#bc94be" stroke-width="1.1" />
<line x1="67.77" y1="217.88" x2="74.37" y2="217.88" stroke="#bc94be" stroke-width="1.1" />
<line x1="80.84" y1="319.68" x2="80.84" y2="246.02" stroke="#bc94be" stroke-width="1.1" />
<line x1="77.54" y1="319.68" x2="84.14" y2="319.68" stroke="#bc94be" stroke-width="1.1" />
<line x1="77.54" y1="246.02" x2="84.14" y2="246.02" stroke="#bc94be" stroke-width="1.1" />
<line x1="90.61" y1="251.66" x2="90.61" y2="224.80" stroke="#bc94be" stroke-width="1.1" />
<line x1="87.31" y1="251.66" x2="93.91" y2="251.66" stroke="#bc94be" stroke-width="1.1" />
<line x1="87.31" y1="224.80" x2="93.91" y2="224.80" stroke="#bc94be" stroke-width="1.1" />
<line x1="100.38" y1="301.35" x2="100.38" y2="273.28" stroke="#bc94be" stroke-width="1.1" />
<line x1="97.08" y1="301.35" x2="103.68" y2="301.35" stroke="#bc94be" stroke-width="1.1" />
<line x1="97.08" y1="273.28" x2="103.68" y2="273.28" stroke="#bc94be" stroke-width="1.1" />
<line x1="110.15" y1="309.41" x2="110.15" y2="255.28" stroke="#bc94be" stroke-width="1.1" />
<line x1="106.85" y1="309.41" x2="113.45" y2="309.41" stroke="#bc94be" stroke-width="1.1" />
<line x1="106.85" y1="255.28" x2="113.45" y2="255.28" stroke="#bc94be" stroke-width="1.1" />
<line x1="119.92" y1="318.40" x2="119.92" y2="291.27" stroke="#bc94be" stroke-width="1.1" />
<line x1="116.62" y1="318.40" x2="123.22" y2="318.40" stroke="#bc94be" stroke-width="1.1" />
<line x1="116.62" y1="291.27" x2="123.22" y2="291.27" stroke="#bc94be" stroke-width="1.1" />
<line x1="129.69" y1="307.73" x2="129.69" y2="288.79" stroke="#bc94be" stroke-width="1.1" />
<line x1="126.39" y1="307.73" x2="132.99" y2="307.73" stroke="#bc94be" stroke-width="1.1" />
<line x1="126.39" y1="288.79" x2="132.99" y2="288.79" stroke="#bc94be" stroke-width="1.1" />
<line x1="159.00" y1="317.40" x2="159.00" y2="301.48" stroke="#bc94be" stroke-width="1.1" />
<line x1="155.70" y1="317.40" x2="162.30" y2="317.40" stroke="#bc94be" stroke-width="1.1" />
<line x1="155.70" y1="301.48" x2="162.30" y2="301.48" stroke="#bc94be" stroke-width="1.1" />
<line x1="198.08" y1="342.17" x2="198.08" y2="294.50" stroke="#bc94be" stroke-width="1.1" />
<line x1="194.78" y1="342.17" x2="201.38" y2="342.17" stroke="#bc94be" stroke-width="1.1" />
<line x1="194.78" y1="294.50" x2="201.38" y2="294.50" stroke="#bc94be" stroke-width="1.1" />
<line x1="266.47" y1="359.30" x2="266.47" y2="277.31" stroke="#bc94be" stroke-width="1.1" />
<line x1="263.17" y1="359.30" x2="269.77" y2="359.30" stroke="#bc94be" stroke-width="1.1" />
<line x1="263.17" y1="277.31" x2="269.77" y2="277.31" stroke="#bc94be" stroke-width="1.1" />
<line x1="334.86" y1="353.05" x2="334.86" y2="292.28" stroke="#bc94be" stroke-width="1.1" />
<line x1="331.56" y1="353.05" x2="338.16" y2="353.05" stroke="#bc94be" stroke-width="1.1" />
<line x1="331.56" y1="292.28" x2="338.16" y2="292.28" stroke="#bc94be" stroke-width="1.1" />
<polyline points="71.07,255.82 80.84,282.55 90.61,237.82 100.38,287.11 110.15,282.55 119.92,305.11 129.69,298.19 159.00,309.34 198.08,318.47 266.47,318.40 334.86,322.43" fill="none" stroke="#6b1669" stroke-width="1.35" stroke-linejoin="round"/>
<circle cx="71.07" cy="255.82" r="2.0" fill="#6b1669"/>
<circle cx="80.84" cy="282.55" r="2.0" fill="#6b1669"/>
<circle cx="90.61" cy="237.82" r="2.0" fill="#6b1669"/>
<circle cx="100.38" cy="287.11" r="2.0" fill="#6b1669"/>
<circle cx="110.15" cy="282.55" r="2.0" fill="#6b1669"/>
<circle cx="119.92" cy="305.11" r="2.0" fill="#6b1669"/>
<circle cx="129.69" cy="298.19" r="2.0" fill="#6b1669"/>
<circle cx="159.00" cy="309.34" r="2.0" fill="#6b1669"/>
<circle cx="198.08" cy="318.47" r="2.0" fill="#6b1669"/>
<circle cx="266.47" cy="318.40" r="2.0" fill="#6b1669"/>
<circle cx="334.86" cy="322.43" r="2.0" fill="#6b1669"/>
<line x1="58.30" y1="210.00" x2="58.30" y2="372.40" stroke="#999" stroke-width="1.8" />
<line x1="58.30" y1="372.40" x2="347.80" y2="372.40" stroke="#555" stroke-width="1.2" />
<line x1="55.80" y1="358.43" x2="58.30" y2="358.43" stroke="#555" stroke-width="1" />
<text x="54.90" y="364.82" font-size="11" text-anchor="end" textLength="13.60" lengthAdjust="spacing" >5</text>
<line x1="55.80" y1="324.85" x2="58.30" y2="324.85" stroke="#555" stroke-width="1" />
<text x="54.90" y="331.25" font-size="11" text-anchor="end" textLength="13.60" lengthAdjust="spacing" >10</text>
<line x1="55.80" y1="291.27" x2="58.30" y2="291.27" stroke="#555" stroke-width="1" />
<text x="54.90" y="297.67" font-size="11" text-anchor="end" textLength="13.60" lengthAdjust="spacing" >15</text>
<line x1="55.80" y1="257.70" x2="58.30" y2="257.70" stroke="#555" stroke-width="1" />
<text x="54.90" y="264.10" font-size="11" text-anchor="end" textLength="13.60" lengthAdjust="spacing" >20</text>
<line x1="55.80" y1="224.12" x2="58.30" y2="224.12" stroke="#555" stroke-width="1" />
<text x="54.90" y="230.53" font-size="11" text-anchor="end" textLength="13.60" lengthAdjust="spacing" >25</text>
<line x1="71.07" y1="370.80" x2="71.07" y2="372.40" stroke="#555" stroke-width="0.8" />
<text x="71.37" y="385.00" font-size="11" text-anchor="middle" >1</text>
<line x1="80.84" y1="370.80" x2="80.84" y2="372.40" stroke="#555" stroke-width="0.8" />
<text x="81.14" y="385.00" font-size="11" text-anchor="middle" >2</text>
<line x1="90.61" y1="370.80" x2="90.61" y2="372.40" stroke="#555" stroke-width="0.8" />
<text x="90.91" y="385.00" font-size="11" text-anchor="middle" >3</text>
<line x1="100.38" y1="370.80" x2="100.38" y2="372.40" stroke="#555" stroke-width="0.8" />
<text x="100.68" y="385.00" font-size="11" text-anchor="middle" >4</text>
<line x1="110.15" y1="370.80" x2="110.15" y2="372.40" stroke="#555" stroke-width="0.8" />
<text x="110.45" y="385.00" font-size="11" text-anchor="middle" >5</text>
<line x1="119.92" y1="370.80" x2="119.92" y2="372.40" stroke="#555" stroke-width="0.8" />
<text x="120.22" y="385.00" font-size="11" text-anchor="middle" >6</text>
<line x1="129.69" y1="370.80" x2="129.69" y2="372.40" stroke="#555" stroke-width="0.8" />
<text x="129.99" y="385.00" font-size="11" text-anchor="middle" >7</text>
<line x1="159.00" y1="370.80" x2="159.00" y2="372.40" stroke="#555" stroke-width="0.8" />
<text x="160.60" y="385.00" font-size="11" text-anchor="middle" textLength="13.60" lengthAdjust="spacing" >10</text>
<line x1="198.08" y1="370.80" x2="198.08" y2="372.40" stroke="#555" stroke-width="0.8" />
<text x="199.68" y="385.00" font-size="11" text-anchor="middle" textLength="13.60" lengthAdjust="spacing" >14</text>
<line x1="266.47" y1="370.80" x2="266.47" y2="372.40" stroke="#555" stroke-width="0.8" />
<text x="268.07" y="385.00" font-size="11" text-anchor="middle" textLength="13.60" lengthAdjust="spacing" >21</text>
<line x1="334.86" y1="370.80" x2="334.86" y2="372.40" stroke="#555" stroke-width="0.8" />
<text x="336.46" y="385.00" font-size="11" text-anchor="middle" textLength="13.60" lengthAdjust="spacing" >28</text>
<text x="135.00" y="213.70" font-size="11" text-anchor="start" textLength="127.00" lengthAdjust="spacing" >Observed features ITS</text>
<text x="186.60" y="395.50" font-size="11" text-anchor="start" textLength="27.10" lengthAdjust="spacing" >Days</text>
<text x="37.00" y="369.70" font-size="11" text-anchor="start" textLength="136.90" lengthAdjust="spacing" transform="rotate(-90 37.00 369.70)" >Observed features ASVs</text>
<line x1="403.82" y1="359.65" x2="403.82" y2="220.29" stroke="#c8e0f9" stroke-width="1.1" />
<line x1="400.52" y1="359.65" x2="407.12" y2="359.65" stroke="#c8e0f9" stroke-width="1.1" />
<line x1="400.52" y1="220.29" x2="407.12" y2="220.29" stroke="#c8e0f9" stroke-width="1.1" />
<line x1="413.74" y1="329.73" x2="413.74" y2="310.92" stroke="#c8e0f9" stroke-width="1.1" />
<line x1="410.44" y1="329.73" x2="417.04" y2="329.73" stroke="#c8e0f9" stroke-width="1.1" />
<line x1="410.44" y1="310.92" x2="417.04" y2="310.92" stroke="#c8e0f9" stroke-width="1.1" />
<line x1="423.66" y1="344.43" x2="423.66" y2="327.16" stroke="#c8e0f9" stroke-width="1.1" />
<line x1="420.36" y1="344.43" x2="426.96" y2="344.43" stroke="#c8e0f9" stroke-width="1.1" />
<line x1="420.36" y1="327.16" x2="426.96" y2="327.16" stroke="#c8e0f9" stroke-width="1.1" />
<line x1="433.58" y1="342.55" x2="433.58" y2="218.58" stroke="#c8e0f9" stroke-width="1.1" />
<line x1="430.28" y1="342.55" x2="436.88" y2="342.55" stroke="#c8e0f9" stroke-width="1.1" />
<line x1="430.28" y1="218.58" x2="436.88" y2="218.58" stroke="#c8e0f9" stroke-width="1.1" />
<line x1="443.50" y1="344.09" x2="443.50" y2="305.27" stroke="#c8e0f9" stroke-width="1.1" />
<line x1="440.20" y1="344.09" x2="446.80" y2="344.09" stroke="#c8e0f9" stroke-width="1.1" />
<line x1="440.20" y1="305.27" x2="446.80" y2="305.27" stroke="#c8e0f9" stroke-width="1.1" />
<line x1="453.42" y1="345.12" x2="453.42" y2="333.15" stroke="#c8e0f9" stroke-width="1.1" />
<line x1="450.12" y1="345.12" x2="456.72" y2="345.12" stroke="#c8e0f9" stroke-width="1.1" />
<line x1="450.12" y1="333.15" x2="456.72" y2="333.15" stroke="#c8e0f9" stroke-width="1.1" />
<line x1="463.34" y1="341.44" x2="463.34" y2="328.87" stroke="#c8e0f9" stroke-width="1.1" />
<line x1="460.04" y1="341.44" x2="466.64" y2="341.44" stroke="#c8e0f9" stroke-width="1.1" />
<line x1="460.04" y1="328.87" x2="466.64" y2="328.87" stroke="#c8e0f9" stroke-width="1.1" />
<line x1="493.10" y1="326.05" x2="493.10" y2="305.44" stroke="#c8e0f9" stroke-width="1.1" />
<line x1="489.80" y1="326.05" x2="496.40" y2="326.05" stroke="#c8e0f9" stroke-width="1.1" />
<line x1="489.80" y1="305.44" x2="496.40" y2="305.44" stroke="#c8e0f9" stroke-width="1.1" />
<line x1="602.22" y1="335.28" x2="602.22" y2="326.82" stroke="#c8e0f9" stroke-width="1.1" />
<line x1="598.92" y1="335.28" x2="605.52" y2="335.28" stroke="#c8e0f9" stroke-width="1.1" />
<line x1="598.92" y1="326.82" x2="605.52" y2="326.82" stroke="#c8e0f9" stroke-width="1.1" />
<line x1="671.66" y1="345.12" x2="671.66" y2="298.26" stroke="#c8e0f9" stroke-width="1.1" />
<line x1="668.36" y1="345.12" x2="674.96" y2="345.12" stroke="#c8e0f9" stroke-width="1.1" />
<line x1="668.36" y1="298.26" x2="674.96" y2="298.26" stroke="#c8e0f9" stroke-width="1.1" />
<polyline points="403.82,290.57 413.74,320.66 423.66,335.71 433.58,280.13 443.50,328.01 453.42,338.79 463.34,335.20 493.10,315.62 532.78,326.56 602.22,332.12 671.66,321.60" fill="none" stroke="#9dcaf6" stroke-width="1.2" stroke-linejoin="round"/>
<circle cx="403.82" cy="290.57" r="1.8" fill="#9dcaf6"/>
<circle cx="413.74" cy="320.66" r="1.8" fill="#9dcaf6"/>
<circle cx="423.66" cy="335.71" r="1.8" fill="#9dcaf6"/>
<circle cx="433.58" cy="280.13" r="1.8" fill="#9dcaf6"/>
<circle cx="443.50" cy="328.01" r="1.8" fill="#9dcaf6"/>
<circle cx="453.42" cy="338.79" r="1.8" fill="#9dcaf6"/>
<circle cx="463.34" cy="335.20" r="1.8" fill="#9dcaf6"/>
<circle cx="493.10" cy="315.62" r="1.8" fill="#9dcaf6"/>
<circle cx="532.78" cy="326.56" r="1.8" fill="#9dcaf6"/>
<circle cx="602.22" cy="332.12" r="1.8" fill="#9dcaf6"/>
<circle cx="671.66" cy="321.60" r="1.8" fill="#9dcaf6"/>
<line x1="403.82" y1="345.37" x2="403.82" y2="326.99" stroke="#fcd7a4" stroke-width="1.1" />
<line x1="400.52" y1="345.37" x2="407.12" y2="345.37" stroke="#fcd7a4" stroke-width="1.1" />
<line x1="400.52" y1="326.99" x2="407.12" y2="326.99" stroke="#fcd7a4" stroke-width="1.1" />
<line x1="413.74" y1="334.00" x2="413.74" y2="324.60" stroke="#fcd7a4" stroke-width="1.1" />
<line x1="410.44" y1="334.00" x2="417.04" y2="334.00" stroke="#fcd7a4" stroke-width="1.1" />
<line x1="410.44" y1="324.60" x2="417.04" y2="324.60" stroke="#fcd7a4" stroke-width="1.1" />
<line x1="423.66" y1="352.81" x2="423.66" y2="319.12" stroke="#fcd7a4" stroke-width="1.1" />
<line x1="420.36" y1="352.81" x2="426.96" y2="352.81" stroke="#fcd7a4" stroke-width="1.1" />
<line x1="420.36" y1="319.12" x2="426.96" y2="319.12" stroke="#fcd7a4" stroke-width="1.1" />
<line x1="433.58" y1="339.99" x2="433.58" y2="321.18" stroke="#fcd7a4" stroke-width="1.1" />
<line x1="430.28" y1="339.99" x2="436.88" y2="339.99" stroke="#fcd7a4" stroke-width="1.1" />
<line x1="430.28" y1="321.18" x2="436.88" y2="321.18" stroke="#fcd7a4" stroke-width="1.1" />
<line x1="443.50" y1="340.41" x2="443.50" y2="313.22" stroke="#fcd7a4" stroke-width="1.1" />
<line x1="440.20" y1="340.41" x2="446.80" y2="340.41" stroke="#fcd7a4" stroke-width="1.1" />
<line x1="440.20" y1="313.22" x2="446.80" y2="313.22" stroke="#fcd7a4" stroke-width="1.1" />
<line x1="453.42" y1="342.81" x2="453.42" y2="325.45" stroke="#fcd7a4" stroke-width="1.1" />
<line x1="450.12" y1="342.81" x2="456.72" y2="342.81" stroke="#fcd7a4" stroke-width="1.1" />
<line x1="450.12" y1="325.45" x2="456.72" y2="325.45" stroke="#fcd7a4" stroke-width="1.1" />
<line x1="463.34" y1="346.06" x2="463.34" y2="302.37" stroke="#fcd7a4" stroke-width="1.1" />
<line x1="460.04" y1="346.06" x2="466.64" y2="346.06" stroke="#fcd7a4" stroke-width="1.1" />
<line x1="460.04" y1="302.37" x2="466.64" y2="302.37" stroke="#fcd7a4" stroke-width="1.1" />
<line x1="493.10" y1="346.14" x2="493.10" y2="314.93" stroke="#fcd7a4" stroke-width="1.1" />
<line x1="489.80" y1="346.14" x2="496.40" y2="346.14" stroke="#fcd7a4" stroke-width="1.1" />
<line x1="489.80" y1="314.93" x2="496.40" y2="314.93" stroke="#fcd7a4" stroke-width="1.1" />
<line x1="532.78" y1="336.48" x2="532.78" y2="292.53" stroke="#fcd7a4" stroke-width="1.1" />
<line x1="529.48" y1="336.48" x2="536.08" y2="336.48" stroke="#fcd7a4" stroke-width="1.1" />
<line x1="529.48" y1="292.53" x2="536.08" y2="292.53" stroke="#fcd7a4" stroke-width="1.1" />
<line x1="602.22" y1="348.36" x2="602.22" y2="326.82" stroke="#fcd7a4" stroke-width="1.1" />
<line x1="598.92" y1="348.36" x2="605.52" y2="348.36" stroke="#fcd7a4" stroke-width="1.1" />
<line x1="598.92" y1="326.82" x2="605.52" y2="326.82" stroke="#fcd7a4" stroke-width="1.1" />
<line x1="671.66" y1="329.30" x2="671.66" y2="313.05" stroke="#fcd7a4" stroke-width="1.1" />
<line x1="668.36" y1="329.30" x2="674.96" y2="329.30" stroke="#fcd7a4" stroke-width="1.1" />
<line x1="668.36" y1="313.05" x2="674.96" y2="313.05" stroke="#fcd7a4" stroke-width="1.1" />
<polyline points="403.82,336.22 413.74,329.38 423.66,336.22 433.58,330.58 443.50,328.01 453.42,331.44 463.34,324.08 493.10,330.15 532.78,314.59 602.22,337.16 671.66,321.60" fill="none" stroke="#fbb862" stroke-width="1.2" stroke-linejoin="round"/>
<circle cx="403.82" cy="336.22" r="1.8" fill="#fbb862"/>
<circle cx="413.74" cy="329.38" r="1.8" fill="#fbb862"/>
<circle cx="423.66" cy="336.22" r="1.8" fill="#fbb862"/>
<circle cx="433.58" cy="330.58" r="1.8" fill="#fbb862"/>
<circle cx="443.50" cy="328.01" r="1.8" fill="#fbb862"/>
<circle cx="453.42" cy="331.44" r="1.8" fill="#fbb862"/>
<circle cx="463.34" cy="324.08" r="1.8" fill="#fbb862"/>
<circle cx="493.10" cy="330.15" r="1.8" fill="#fbb862"/>
<circle cx="532.78" cy="314.59" r="1.8" fill="#fbb862"/>
<circle cx="602.22" cy="337.16" r="1.8" fill="#fbb862"/>
<circle cx="671.66" cy="321.60" r="1.8" fill="#fbb862"/>
<line x1="403.82" y1="332.03" x2="403.82" y2="301.77" stroke="#bc94be" stroke-width="1.1" />
<line x1="400.52" y1="332.03" x2="407.12" y2="332.03" stroke="#bc94be" stroke-width="1.1" />
<line x1="400.52" y1="301.77" x2="407.12" y2="301.77" stroke="#bc94be" stroke-width="1.1" />
<line x1="413.74" y1="328.27" x2="413.74" y2="294.41" stroke="#bc94be" stroke-width="1.1" />
<line x1="410.44" y1="328.27" x2="417.04" y2="328.27" stroke="#bc94be" stroke-width="1.1" />
<line x1="410.44" y1="294.41" x2="417.04" y2="294.41" stroke="#bc94be" stroke-width="1.1" />
<line x1="423.66" y1="335.71" x2="423.66" y2="311.17" stroke="#bc94be" stroke-width="1.1" />
<line x1="420.36" y1="335.71" x2="426.96" y2="335.71" stroke="#bc94be" stroke-width="1.1" />
<line x1="420.36" y1="311.17" x2="426.96" y2="311.17" stroke="#bc94be" stroke-width="1.1" />
<line x1="433.58" y1="346.48" x2="433.58" y2="325.02" stroke="#bc94be" stroke-width="1.1" />
<line x1="430.28" y1="346.48" x2="436.88" y2="346.48" stroke="#bc94be" stroke-width="1.1" />
<line x1="430.28" y1="325.02" x2="436.88" y2="325.02" stroke="#bc94be" stroke-width="1.1" />
<line x1="443.50" y1="335.28" x2="443.50" y2="321.43" stroke="#bc94be" stroke-width="1.1" />
<line x1="440.20" y1="335.28" x2="446.80" y2="335.28" stroke="#bc94be" stroke-width="1.1" />
<line x1="440.20" y1="321.43" x2="446.80" y2="321.43" stroke="#bc94be" stroke-width="1.1" />
<line x1="453.42" y1="338.79" x2="453.42" y2="323.06" stroke="#bc94be" stroke-width="1.1" />
<line x1="450.12" y1="338.79" x2="456.72" y2="338.79" stroke="#bc94be" stroke-width="1.1" />
<line x1="450.12" y1="323.06" x2="456.72" y2="323.06" stroke="#bc94be" stroke-width="1.1" />
<line x1="463.34" y1="353.67" x2="463.34" y2="328.10" stroke="#bc94be" stroke-width="1.1" />
<line x1="460.04" y1="353.67" x2="466.64" y2="353.67" stroke="#bc94be" stroke-width="1.1" />
<line x1="460.04" y1="328.10" x2="466.64" y2="328.10" stroke="#bc94be" stroke-width="1.1" />
<line x1="493.10" y1="336.82" x2="493.10" y2="334.86" stroke="#bc94be" stroke-width="1.1" />
<line x1="489.80" y1="336.82" x2="496.40" y2="336.82" stroke="#bc94be" stroke-width="1.1" />
<line x1="489.80" y1="334.86" x2="496.40" y2="334.86" stroke="#bc94be" stroke-width="1.1" />
<line x1="532.78" y1="352.13" x2="532.78" y2="307.32" stroke="#bc94be" stroke-width="1.1" />
<line x1="529.48" y1="352.13" x2="536.08" y2="352.13" stroke="#bc94be" stroke-width="1.1" />
<line x1="529.48" y1="307.32" x2="536.08" y2="307.32" stroke="#bc94be" stroke-width="1.1" />
<line x1="602.22" y1="337.16" x2="602.22" y2="288.69" stroke="#bc94be" stroke-width="1.1" />
<line x1="598.92" y1="337.16" x2="605.52" y2="337.16" stroke="#bc94be" stroke-width="1.1" />
<line x1="598.92" y1="288.69" x2="605.52" y2="288.69" stroke="#bc94be" stroke-width="1.1" />
<line x1="671.66" y1="364.78" x2="671.66" y2="224.39" stroke="#bc94be" stroke-width="1.1" />
<line x1="668.36" y1="364.78" x2="674.96" y2="364.78" stroke="#bc94be" stroke-width="1.1" />
<line x1="668.36" y1="224.39" x2="674.96" y2="224.39" stroke="#bc94be" stroke-width="1.1" />
<polyline points="403.82,316.90 413.74,311.17 423.66,323.06 433.58,335.80 443.50,328.27 453.42,331.01 463.34,341.44 493.10,335.97 532.78,329.73 602.22,313.05 671.66,294.33" fill="none" stroke="#6b1669" stroke-width="1.35" stroke-linejoin="round"/>
<circle cx="403.82" cy="316.90" r="2.0" fill="#6b1669"/>
<circle cx="413.74" cy="311.17" r="2.0" fill="#6b1669"/>
<circle cx="423.66" cy="323.06" r="2.0" fill="#6b1669"/>
<circle cx="433.58" cy="335.80" r="2.0" fill="#6b1669"/>
<circle cx="443.50" cy="328.27" r="2.0" fill="#6b1669"/>
<circle cx="453.42" cy="331.01" r="2.0" fill="#6b1669"/>
<circle cx="463.34" cy="341.44" r="2.0" fill="#6b1669"/>
<circle cx="493.10" cy="335.97" r="2.0" fill="#6b1669"/>
<circle cx="532.78" cy="329.73" r="2.0" fill="#6b1669"/>
<circle cx="602.22" cy="313.05" r="2.0" fill="#6b1669"/>
<circle cx="671.66" cy="294.33" r="2.0" fill="#6b1669"/>
<line x1="390.40" y1="210.30" x2="390.40" y2="371.80" stroke="#333" stroke-width="1.2" />
<line x1="390.40" y1="371.80" x2="685.00" y2="371.80" stroke="#555" stroke-width="1.2" />
<line x1="387.10" y1="363.93" x2="390.40" y2="363.93" stroke="#333" stroke-width="1" />
<text x="387.30" y="367.93" font-size="11" text-anchor="end" textLength="30.50" lengthAdjust="spacing" >0.200</text>
<line x1="387.10" y1="342.55" x2="390.40" y2="342.55" stroke="#333" stroke-width="1" />
<text x="387.30" y="346.55" font-size="11" text-anchor="end" textLength="30.50" lengthAdjust="spacing" >0.225</text>
<line x1="387.10" y1="321.18" x2="390.40" y2="321.18" stroke="#333" stroke-width="1" />
<text x="387.30" y="325.18" font-size="11" text-anchor="end" textLength="30.50" lengthAdjust="spacing" >0.250</text>
<line x1="387.10" y1="299.80" x2="390.40" y2="299.80" stroke="#333" stroke-width="1" />
<text x="387.30" y="303.80" font-size="11" text-anchor="end" textLength="30.50" lengthAdjust="spacing" >0.275</text>
<line x1="387.10" y1="278.42" x2="390.40" y2="278.42" stroke="#333" stroke-width="1" />
<text x="387.30" y="282.42" font-size="11" text-anchor="end" textLength="30.50" lengthAdjust="spacing" >0.300</text>
<line x1="387.10" y1="257.05" x2="390.40" y2="257.05" stroke="#333" stroke-width="1" />
<text x="387.30" y="261.05" font-size="11" text-anchor="end" textLength="30.50" lengthAdjust="spacing" >0.325</text>
<line x1="387.10" y1="235.67" x2="390.40" y2="235.67" stroke="#333" stroke-width="1" />
<text x="387.30" y="239.67" font-size="11" text-anchor="end" textLength="30.50" lengthAdjust="spacing" >0.350</text>
<line x1="387.10" y1="214.30" x2="390.40" y2="214.30" stroke="#333" stroke-width="1" />
<text x="387.30" y="218.30" font-size="11" text-anchor="end" textLength="30.50" lengthAdjust="spacing" >0.375</text>
<line x1="403.82" y1="371.80" x2="403.82" y2="374.00" stroke="#555" stroke-width="0.8" />
<text x="404.12" y="385.80" font-size="11" text-anchor="middle" >1</text>
<line x1="413.74" y1="371.80" x2="413.74" y2="374.00" stroke="#555" stroke-width="0.8" />
<text x="414.04" y="385.80" font-size="11" text-anchor="middle" >2</text>
<line x1="423.66" y1="371.80" x2="423.66" y2="374.00" stroke="#555" stroke-width="0.8" />
<text x="423.96" y="385.80" font-size="11" text-anchor="middle" >3</text>
<line x1="433.58" y1="371.80" x2="433.58" y2="374.00" stroke="#555" stroke-width="0.8" />
<text x="433.88" y="385.80" font-size="11" text-anchor="middle" >4</text>
<line x1="443.50" y1="371.80" x2="443.50" y2="374.00" stroke="#555" stroke-width="0.8" />
<text x="443.80" y="385.80" font-size="11" text-anchor="middle" >5</text>
<line x1="453.42" y1="371.80" x2="453.42" y2="374.00" stroke="#555" stroke-width="0.8" />
<text x="453.72" y="385.80" font-size="11" text-anchor="middle" >6</text>
<line x1="463.34" y1="371.80" x2="463.34" y2="374.00" stroke="#555" stroke-width="0.8" />
<text x="463.64" y="385.80" font-size="11" text-anchor="middle" >7</text>
<line x1="493.10" y1="371.80" x2="493.10" y2="374.00" stroke="#555" stroke-width="0.8" />
<text x="494.70" y="385.80" font-size="11" text-anchor="middle" textLength="13.60" lengthAdjust="spacing" >10</text>
<line x1="532.78" y1="371.80" x2="532.78" y2="374.00" stroke="#555" stroke-width="0.8" />
<text x="534.38" y="385.80" font-size="11" text-anchor="middle" textLength="13.60" lengthAdjust="spacing" >14</text>
<line x1="602.22" y1="371.80" x2="602.22" y2="374.00" stroke="#555" stroke-width="0.8" />
<text x="603.82" y="385.80" font-size="11" text-anchor="middle" textLength="13.60" lengthAdjust="spacing" >21</text>
<line x1="671.66" y1="371.80" x2="671.66" y2="374.00" stroke="#555" stroke-width="0.8" />
<text x="673.26" y="385.80" font-size="11" text-anchor="middle" textLength="13.60" lengthAdjust="spacing" >28</text>
<text x="500.20" y="212.70" font-size="11" text-anchor="start" textLength="76.60" lengthAdjust="spacing" >Evenness ITS</text>
<text x="526.00" y="397.80" font-size="11" text-anchor="start" textLength="26.80" lengthAdjust="spacing" >Days</text>
<text x="356.30" y="331.60" font-size="11" text-anchor="start" textLength="79.50" lengthAdjust="spacing" transform="rotate(-90 356.30 331.60)" >Evenness ASVs</text>
<rect x="592.50" y="219.40" width="65.80" height="39.70" fill="white" stroke="#dddddd" stroke-width="0.8" rx="2" fill-opacity="0.8"/>
<rect x="593.60" y="224.10" width="21.50" height="4.80" fill="#9dcaf6" stroke="none" stroke-width="0" />
<text x="619.40" y="229.20" font-size="11.5" text-anchor="start" textLength="21.80" lengthAdjust="spacing" >4°C</text>
<rect x="593.60" y="236.40" width="21.50" height="4.80" fill="#fbb862" stroke="none" stroke-width="0" />
<text x="619.40" y="241.50" font-size="11.5" text-anchor="start" textLength="28.50" lengthAdjust="spacing" >17°C</text>
<rect x="593.60" y="248.70" width="21.50" height="4.80" fill="#6b1669" stroke="none" stroke-width="0" />
<text x="619.40" y="253.80" font-size="11.5" text-anchor="start" textLength="28.50" lengthAdjust="spacing" >30°C</text>
<rect x="38.50" y="423.90" width="294.20" height="286.40" fill="none" stroke="#555" stroke-width="1.2" />
<line x1="38.50" y1="586.40" x2="332.70" y2="586.40" stroke="#777" stroke-width="1.2" stroke-dasharray="4.5,3"/>
<line x1="51.40" y1="486.30" x2="51.40" y2="486.30" stroke="#6e6e6e" stroke-width="1.3" />
<line x1="51.40" y1="491.50" x2="51.40" y2="496.10" stroke="#6e6e6e" stroke-width="1.3" />
<line x1="48.95" y1="486.30" x2="53.85" y2="486.30" stroke="#6e6e6e" stroke-width="1.3" />
<line x1="48.95" y1="496.10" x2="53.85" y2="496.10" stroke="#6e6e6e" stroke-width="1.3" />
<rect x="48.40" y="486.30" width="6.00" height="5.20" fill="#fdfdfd" stroke="#6e6e6e" stroke-width="1.2" />
<line x1="48.40" y1="491.00" x2="54.40" y2="491.00" stroke="#6e6e6e" stroke-width="1.2" />
<line x1="58.51" y1="486.30" x2="58.51" y2="490.90" stroke="#6e6e6e" stroke-width="1.3" />
<line x1="58.51" y1="497.40" x2="58.51" y2="501.80" stroke="#6e6e6e" stroke-width="1.3" />
<line x1="56.06" y1="486.30" x2="60.96" y2="486.30" stroke="#6e6e6e" stroke-width="1.3" />
<line x1="56.06" y1="501.80" x2="60.96" y2="501.80" stroke="#6e6e6e" stroke-width="1.3" />
<rect x="55.51" y="490.90" width="6.00" height="6.50" fill="#e6e6e6" stroke="#6e6e6e" stroke-width="1.2" />
<line x1="55.51" y1="494.40" x2="61.51" y2="494.40" stroke="#6e6e6e" stroke-width="1.2" />
<line x1="65.62" y1="436.80" x2="65.62" y2="484.30" stroke="#6e6e6e" stroke-width="1.3" />
<line x1="65.62" y1="543.40" x2="65.62" y2="555.90" stroke="#6e6e6e" stroke-width="1.3" />
<line x1="63.17" y1="436.80" x2="68.07" y2="436.80" stroke="#6e6e6e" stroke-width="1.3" />
<line x1="63.17" y1="555.90" x2="68.07" y2="555.90" stroke="#6e6e6e" stroke-width="1.3" />
<rect x="62.62" y="484.30" width="6.00" height="59.10" fill="#cfcfcf" stroke="#6e6e6e" stroke-width="1.2" />
<line x1="62.62" y1="531.60" x2="68.62" y2="531.60" stroke="#6e6e6e" stroke-width="1.2" />
<line x1="72.73" y1="464.30" x2="72.73" y2="476.40" stroke="#6e6e6e" stroke-width="1.3" />
<line x1="72.73" y1="491.30" x2="72.73" y2="493.50" stroke="#6e6e6e" stroke-width="1.3" />
<line x1="70.28" y1="464.30" x2="75.18" y2="464.30" stroke="#6e6e6e" stroke-width="1.3" />
<line x1="70.28" y1="493.50" x2="75.18" y2="493.50" stroke="#6e6e6e" stroke-width="1.3" />
<rect x="69.73" y="476.40" width="6.00" height="14.90" fill="#b4b4b4" stroke="#6e6e6e" stroke-width="1.2" />
<line x1="69.73" y1="489.60" x2="75.73" y2="489.60" stroke="#6e6e6e" stroke-width="1.2" />
<line x1="79.84" y1="462.00" x2="79.84" y2="480.40" stroke="#6e6e6e" stroke-width="1.3" />
<line x1="79.84" y1="515.80" x2="79.84" y2="533.20" stroke="#6e6e6e" stroke-width="1.3" />
<line x1="77.39" y1="462.00" x2="82.29" y2="462.00" stroke="#6e6e6e" stroke-width="1.3" />
<line x1="77.39" y1="533.20" x2="82.29" y2="533.20" stroke="#6e6e6e" stroke-width="1.3" />
<rect x="76.84" y="480.40" width="6.00" height="35.40" fill="#9a9a9a" stroke="#6e6e6e" stroke-width="1.2" />
<line x1="76.84" y1="498.40" x2="82.84" y2="498.40" stroke="#6e6e6e" stroke-width="1.2" />
<line x1="83.45" y1="521.50" x2="90.45" y2="521.50" stroke="#6e6e6e" stroke-width="1.3" />
<line x1="94.06" y1="482.60" x2="94.06" y2="500.10" stroke="#6e6e6e" stroke-width="1.3" />
<line x1="94.06" y1="525.00" x2="94.06" y2="532.30" stroke="#6e6e6e" stroke-width="1.3" />
<line x1="91.61" y1="482.60" x2="96.51" y2="482.60" stroke="#6e6e6e" stroke-width="1.3" />
<line x1="91.61" y1="532.30" x2="96.51" y2="532.30" stroke="#6e6e6e" stroke-width="1.3" />
<rect x="91.06" y="500.10" width="6.00" height="24.90" fill="#686868" stroke="#6e6e6e" stroke-width="1.2" />
<line x1="91.06" y1="517.20" x2="97.06" y2="517.20" stroke="#6e6e6e" stroke-width="1.2" />
<line x1="101.17" y1="472.50" x2="101.17" y2="494.40" stroke="#6e6e6e" stroke-width="1.3" />
<line x1="101.17" y1="521.10" x2="101.17" y2="525.70" stroke="#6e6e6e" stroke-width="1.3" />
<line x1="98.72" y1="472.50" x2="103.62" y2="472.50" stroke="#6e6e6e" stroke-width="1.3" />
<line x1="98.72" y1="525.70" x2="103.62" y2="525.70" stroke="#6e6e6e" stroke-width="1.3" />
<rect x="98.17" y="494.40" width="6.00" height="26.70" fill="#525252" stroke="#6e6e6e" stroke-width="1.2" />
<line x1="98.17" y1="516.50" x2="104.17" y2="516.50" stroke="#6e6e6e" stroke-width="1.2" />
<line x1="108.28" y1="462.60" x2="108.28" y2="472.50" stroke="#6e6e6e" stroke-width="1.3" />
<line x1="108.28" y1="499.20" x2="108.28" y2="516.90" stroke="#6e6e6e" stroke-width="1.3" />
<line x1="105.83" y1="462.60" x2="110.73" y2="462.60" stroke="#6e6e6e" stroke-width="1.3" />
<line x1="105.83" y1="516.90" x2="110.73" y2="516.90" stroke="#6e6e6e" stroke-width="1.3" />
<rect x="105.28" y="472.50" width="6.00" height="26.70" fill="#363636" stroke="#6e6e6e" stroke-width="1.2" />
<line x1="105.28" y1="481.70" x2="111.28" y2="481.70" stroke="#6e6e6e" stroke-width="1.2" />
<line x1="111.89" y1="501.80" x2="118.89" y2="501.80" stroke="#6e6e6e" stroke-width="1.3" />
<line x1="122.50" y1="506.60" x2="122.50" y2="510.30" stroke="#6e6e6e" stroke-width="1.3" />
<line x1="122.50" y1="517.20" x2="122.50" y2="521.10" stroke="#6e6e6e" stroke-width="1.3" />
<line x1="120.05" y1="506.60" x2="124.95" y2="506.60" stroke="#6e6e6e" stroke-width="1.3" />
<line x1="120.05" y1="521.10" x2="124.95" y2="521.10" stroke="#6e6e6e" stroke-width="1.3" />
<rect x="119.50" y="510.30" width="6.00" height="6.90" fill="#020202" stroke="#6e6e6e" stroke-width="1.2" />
<line x1="119.50" y1="513.60" x2="125.50" y2="513.60" stroke="#6e6e6e" stroke-width="1.2" />
<line x1="149.90" y1="491.70" x2="149.90" y2="504.20" stroke="#6e6e6e" stroke-width="1.3" />
<line x1="149.90" y1="529.30" x2="149.90" y2="541.30" stroke="#6e6e6e" stroke-width="1.3" />
<line x1="147.45" y1="491.70" x2="152.35" y2="491.70" stroke="#6e6e6e" stroke-width="1.3" />
<line x1="147.45" y1="541.30" x2="152.35" y2="541.30" stroke="#6e6e6e" stroke-width="1.3" />
<rect x="146.90" y="504.20" width="6.00" height="25.10" fill="#fdfdfd" stroke="#6e6e6e" stroke-width="1.2" />
<line x1="146.90" y1="516.20" x2="152.90" y2="516.20" stroke="#6e6e6e" stroke-width="1.2" />
<line x1="157.01" y1="486.30" x2="157.01" y2="497.70" stroke="#6e6e6e" stroke-width="1.3" />
<line x1="157.01" y1="510.40" x2="157.01" y2="513.30" stroke="#6e6e6e" stroke-width="1.3" />
<line x1="154.56" y1="486.30" x2="159.46" y2="486.30" stroke="#6e6e6e" stroke-width="1.3" />
<line x1="154.56" y1="513.30" x2="159.46" y2="513.30" stroke="#6e6e6e" stroke-width="1.3" />
<rect x="154.01" y="497.70" width="6.00" height="12.70" fill="#e6e6e6" stroke="#6e6e6e" stroke-width="1.2" />
<line x1="154.01" y1="508.90" x2="160.01" y2="508.90" stroke="#6e6e6e" stroke-width="1.2" />
<line x1="164.12" y1="497.50" x2="164.12" y2="497.70" stroke="#6e6e6e" stroke-width="1.3" />
<line x1="164.12" y1="519.90" x2="164.12" y2="541.80" stroke="#6e6e6e" stroke-width="1.3" />
<line x1="161.67" y1="497.50" x2="166.57" y2="497.50" stroke="#6e6e6e" stroke-width="1.3" />
<line x1="161.67" y1="541.80" x2="166.57" y2="541.80" stroke="#6e6e6e" stroke-width="1.3" />
<rect x="161.12" y="497.70" width="6.00" height="22.20" fill="#cfcfcf" stroke="#6e6e6e" stroke-width="1.2" />
<line x1="161.12" y1="499.00" x2="167.12" y2="499.00" stroke="#6e6e6e" stroke-width="1.2" />
<line x1="171.23" y1="476.40" x2="171.23" y2="498.40" stroke="#6e6e6e" stroke-width="1.3" />
<line x1="171.23" y1="542.50" x2="171.23" y2="564.60" stroke="#6e6e6e" stroke-width="1.3" />
<line x1="168.78" y1="476.40" x2="173.68" y2="476.40" stroke="#6e6e6e" stroke-width="1.3" />
<line x1="168.78" y1="564.60" x2="173.68" y2="564.60" stroke="#6e6e6e" stroke-width="1.3" />
<rect x="168.23" y="498.40" width="6.00" height="44.10" fill="#b4b4b4" stroke="#6e6e6e" stroke-width="1.2" />
<line x1="168.23" y1="520.10" x2="174.23" y2="520.10" stroke="#6e6e6e" stroke-width="1.2" />
<line x1="178.34" y1="568.00" x2="178.34" y2="570.60" stroke="#6e6e6e" stroke-width="1.3" />
<line x1="178.34" y1="596.90" x2="178.34" y2="619.70" stroke="#6e6e6e" stroke-width="1.3" />
<line x1="175.89" y1="568.00" x2="180.79" y2="568.00" stroke="#6e6e6e" stroke-width="1.3" />
<line x1="175.89" y1="619.70" x2="180.79" y2="619.70" stroke="#6e6e6e" stroke-width="1.3" />
<rect x="175.34" y="570.60" width="6.00" height="26.30" fill="#9a9a9a" stroke="#6e6e6e" stroke-width="1.2" />
<line x1="175.34" y1="572.70" x2="181.34" y2="572.70" stroke="#6e6e6e" stroke-width="1.2" />
<line x1="185.45" y1="587.30" x2="185.45" y2="598.80" stroke="#6e6e6e" stroke-width="1.3" />
<line x1="185.45" y1="615.10" x2="185.45" y2="621.10" stroke="#6e6e6e" stroke-width="1.3" />
<line x1="183.00" y1="587.30" x2="187.90" y2="587.30" stroke="#6e6e6e" stroke-width="1.3" />
<line x1="183.00" y1="621.10" x2="187.90" y2="621.10" stroke="#6e6e6e" stroke-width="1.3" />
<rect x="182.45" y="598.80" width="6.00" height="16.30" fill="#828282" stroke="#6e6e6e" stroke-width="1.2" />
<line x1="182.45" y1="610.40" x2="188.45" y2="610.40" stroke="#6e6e6e" stroke-width="1.2" />
<line x1="192.56" y1="503.10" x2="192.56" y2="558.80" stroke="#6e6e6e" stroke-width="1.3" />
<line x1="192.56" y1="631.10" x2="192.56" y2="646.40" stroke="#6e6e6e" stroke-width="1.3" />
<line x1="190.11" y1="503.10" x2="195.01" y2="503.10" stroke="#6e6e6e" stroke-width="1.3" />
<line x1="190.11" y1="646.40" x2="195.01" y2="646.40" stroke="#6e6e6e" stroke-width="1.3" />
<rect x="189.56" y="558.80" width="6.00" height="72.30" fill="#686868" stroke="#6e6e6e" stroke-width="1.2" />
<line x1="189.56" y1="614.70" x2="195.56" y2="614.70" stroke="#6e6e6e" stroke-width="1.2" />
<line x1="199.67" y1="559.90" x2="199.67" y2="568.90" stroke="#6e6e6e" stroke-width="1.3" />
<line x1="199.67" y1="601.90" x2="199.67" y2="625.80" stroke="#6e6e6e" stroke-width="1.3" />
<line x1="197.22" y1="559.90" x2="202.12" y2="559.90" stroke="#6e6e6e" stroke-width="1.3" />
<line x1="197.22" y1="625.80" x2="202.12" y2="625.80" stroke="#6e6e6e" stroke-width="1.3" />
<rect x="196.67" y="568.90" width="6.00" height="33.00" fill="#525252" stroke="#6e6e6e" stroke-width="1.2" />
<line x1="196.67" y1="577.40" x2="202.67" y2="577.40" stroke="#6e6e6e" stroke-width="1.2" />
<line x1="206.78" y1="619.40" x2="206.78" y2="631.10" stroke="#6e6e6e" stroke-width="1.3" />
<line x1="206.78" y1="647.40" x2="206.78" y2="653.10" stroke="#6e6e6e" stroke-width="1.3" />
<line x1="204.33" y1="619.40" x2="209.23" y2="619.40" stroke="#6e6e6e" stroke-width="1.3" />
<line x1="204.33" y1="653.10" x2="209.23" y2="653.10" stroke="#6e6e6e" stroke-width="1.3" />
<rect x="203.78" y="631.10" width="6.00" height="16.30" fill="#363636" stroke="#6e6e6e" stroke-width="1.2" />
<line x1="203.78" y1="642.50" x2="209.78" y2="642.50" stroke="#6e6e6e" stroke-width="1.2" />
<line x1="213.89" y1="566.30" x2="213.89" y2="596.90" stroke="#6e6e6e" stroke-width="1.3" />
<line x1="213.89" y1="638.50" x2="213.89" y2="650.00" stroke="#6e6e6e" stroke-width="1.3" />
<line x1="211.44" y1="566.30" x2="216.34" y2="566.30" stroke="#6e6e6e" stroke-width="1.3" />
<line x1="211.44" y1="650.00" x2="216.34" y2="650.00" stroke="#6e6e6e" stroke-width="1.3" />
<rect x="210.89" y="596.90" width="6.00" height="41.60" fill="#1c1c1c" stroke="#6e6e6e" stroke-width="1.2" />
<line x1="210.89" y1="627.20" x2="216.89" y2="627.20" stroke="#6e6e6e" stroke-width="1.2" />
<line x1="221.00" y1="602.50" x2="221.00" y2="604.00" stroke="#6e6e6e" stroke-width="1.3" />
<line x1="221.00" y1="607.60" x2="221.00" y2="608.50" stroke="#6e6e6e" stroke-width="1.3" />
<line x1="218.55" y1="602.50" x2="223.45" y2="602.50" stroke="#6e6e6e" stroke-width="1.3" />
<line x1="218.55" y1="608.50" x2="223.45" y2="608.50" stroke="#6e6e6e" stroke-width="1.3" />
<rect x="218.00" y="604.00" width="6.00" height="3.60" fill="#020202" stroke="#6e6e6e" stroke-width="1.2" />
<line x1="218.00" y1="606.00" x2="224.00" y2="606.00" stroke="#6e6e6e" stroke-width="1.2" />
<line x1="248.00" y1="485.20" x2="248.00" y2="498.50" stroke="#6e6e6e" stroke-width="1.3" />
<line x1="248.00" y1="529.80" x2="248.00" y2="548.00" stroke="#6e6e6e" stroke-width="1.3" />
<line x1="245.55" y1="485.20" x2="250.45" y2="485.20" stroke="#6e6e6e" stroke-width="1.3" />
<line x1="245.55" y1="548.00" x2="250.45" y2="548.00" stroke="#6e6e6e" stroke-width="1.3" />
<rect x="245.00" y="498.50" width="6.00" height="31.30" fill="#fdfdfd" stroke="#6e6e6e" stroke-width="1.2" />
<line x1="245.00" y1="511.50" x2="251.00" y2="511.50" stroke="#6e6e6e" stroke-width="1.2" />
<line x1="255.11" y1="542.80" x2="255.11" y2="551.80" stroke="#6e6e6e" stroke-width="1.3" />
<line x1="255.11" y1="569.60" x2="255.11" y2="578.50" stroke="#6e6e6e" stroke-width="1.3" />
<line x1="252.66" y1="542.80" x2="257.56" y2="542.80" stroke="#6e6e6e" stroke-width="1.3" />
<line x1="252.66" y1="578.50" x2="257.56" y2="578.50" stroke="#6e6e6e" stroke-width="1.3" />
<rect x="252.11" y="551.80" width="6.00" height="17.80" fill="#e6e6e6" stroke="#6e6e6e" stroke-width="1.2" />
<line x1="252.11" y1="560.60" x2="258.11" y2="560.60" stroke="#6e6e6e" stroke-width="1.2" />
<line x1="262.22" y1="487.50" x2="262.22" y2="503.00" stroke="#6e6e6e" stroke-width="1.3" />
<line x1="262.22" y1="575.30" x2="262.22" y2="631.60" stroke="#6e6e6e" stroke-width="1.3" />
<line x1="259.77" y1="487.50" x2="264.67" y2="487.50" stroke="#6e6e6e" stroke-width="1.3" />
<line x1="259.77" y1="631.60" x2="264.67" y2="631.60" stroke="#6e6e6e" stroke-width="1.3" />
<rect x="259.22" y="503.00" width="6.00" height="72.30" fill="#cfcfcf" stroke="#6e6e6e" stroke-width="1.2" />
<line x1="259.22" y1="518.40" x2="265.22" y2="518.40" stroke="#6e6e6e" stroke-width="1.2" />
<line x1="269.33" y1="537.30" x2="269.33" y2="541.80" stroke="#6e6e6e" stroke-width="1.3" />
<line x1="269.33" y1="556.40" x2="269.33" y2="568.20" stroke="#6e6e6e" stroke-width="1.3" />
<line x1="266.88" y1="537.30" x2="271.78" y2="537.30" stroke="#6e6e6e" stroke-width="1.3" />
<line x1="266.88" y1="568.20" x2="271.78" y2="568.20" stroke="#6e6e6e" stroke-width="1.3" />
<rect x="266.33" y="541.80" width="6.00" height="14.60" fill="#b4b4b4" stroke="#6e6e6e" stroke-width="1.2" />
<line x1="266.33" y1="544.00" x2="272.33" y2="544.00" stroke="#6e6e6e" stroke-width="1.2" />
<line x1="276.44" y1="500.90" x2="276.44" y2="524.30" stroke="#6e6e6e" stroke-width="1.3" />
<line x1="276.44" y1="589.20" x2="276.44" y2="630.70" stroke="#6e6e6e" stroke-width="1.3" />
<line x1="273.99" y1="500.90" x2="278.89" y2="500.90" stroke="#6e6e6e" stroke-width="1.3" />
<line x1="273.99" y1="630.70" x2="278.89" y2="630.70" stroke="#6e6e6e" stroke-width="1.3" />
<rect x="273.44" y="524.30" width="6.00" height="64.90" fill="#9a9a9a" stroke="#6e6e6e" stroke-width="1.2" />
<line x1="273.44" y1="547.50" x2="279.44" y2="547.50" stroke="#6e6e6e" stroke-width="1.2" />
<line x1="283.55" y1="615.90" x2="283.55" y2="621.90" stroke="#6e6e6e" stroke-width="1.3" />
<line x1="283.55" y1="647.50" x2="283.55" y2="667.40" stroke="#6e6e6e" stroke-width="1.3" />
<line x1="281.10" y1="615.90" x2="286.00" y2="615.90" stroke="#6e6e6e" stroke-width="1.3" />
<line x1="281.10" y1="667.40" x2="286.00" y2="667.40" stroke="#6e6e6e" stroke-width="1.3" />
<rect x="280.55" y="621.90" width="6.00" height="25.60" fill="#828282" stroke="#6e6e6e" stroke-width="1.2" />
<line x1="280.55" y1="627.60" x2="286.55" y2="627.60" stroke="#6e6e6e" stroke-width="1.2" />
<line x1="290.66" y1="647.10" x2="290.66" y2="654.20" stroke="#6e6e6e" stroke-width="1.3" />
<line x1="290.66" y1="665.30" x2="290.66" y2="668.80" stroke="#6e6e6e" stroke-width="1.3" />
<line x1="288.21" y1="647.10" x2="293.11" y2="647.10" stroke="#6e6e6e" stroke-width="1.3" />
<line x1="288.21" y1="668.80" x2="293.11" y2="668.80" stroke="#6e6e6e" stroke-width="1.3" />
<rect x="287.66" y="654.20" width="6.00" height="11.10" fill="#686868" stroke="#6e6e6e" stroke-width="1.2" />
<line x1="287.66" y1="660.30" x2="293.66" y2="660.30" stroke="#6e6e6e" stroke-width="1.2" />
<line x1="297.77" y1="621.50" x2="297.77" y2="640.00" stroke="#6e6e6e" stroke-width="1.3" />
<line x1="297.77" y1="675.90" x2="297.77" y2="693.00" stroke="#6e6e6e" stroke-width="1.3" />
<line x1="295.32" y1="621.50" x2="300.22" y2="621.50" stroke="#6e6e6e" stroke-width="1.3" />
<line x1="295.32" y1="693.00" x2="300.22" y2="693.00" stroke="#6e6e6e" stroke-width="1.3" />
<rect x="294.77" y="640.00" width="6.00" height="35.90" fill="#525252" stroke="#6e6e6e" stroke-width="1.2" />
<line x1="294.77" y1="658.20" x2="300.77" y2="658.20" stroke="#6e6e6e" stroke-width="1.2" />
<line x1="304.88" y1="608.70" x2="304.88" y2="622.20" stroke="#6e6e6e" stroke-width="1.3" />
<line x1="304.88" y1="666.00" x2="304.88" y2="697.30" stroke="#6e6e6e" stroke-width="1.3" />
<line x1="302.43" y1="608.70" x2="307.33" y2="608.70" stroke="#6e6e6e" stroke-width="1.3" />
<line x1="302.43" y1="697.30" x2="307.33" y2="697.30" stroke="#6e6e6e" stroke-width="1.3" />
<rect x="301.88" y="622.20" width="6.00" height="43.80" fill="#363636" stroke="#6e6e6e" stroke-width="1.2" />
<line x1="301.88" y1="635.40" x2="307.88" y2="635.40" stroke="#6e6e6e" stroke-width="1.2" />
<line x1="311.99" y1="576.10" x2="311.99" y2="598.70" stroke="#6e6e6e" stroke-width="1.3" />
<line x1="311.99" y1="658.90" x2="311.99" y2="696.90" stroke="#6e6e6e" stroke-width="1.3" />
<line x1="309.54" y1="576.10" x2="314.44" y2="576.10" stroke="#6e6e6e" stroke-width="1.3" />
<line x1="309.54" y1="696.90" x2="314.44" y2="696.90" stroke="#6e6e6e" stroke-width="1.3" />
<rect x="308.99" y="598.70" width="6.00" height="60.20" fill="#1c1c1c" stroke="#6e6e6e" stroke-width="1.2" />
<line x1="308.99" y1="621.50" x2="314.99" y2="621.50" stroke="#6e6e6e" stroke-width="1.2" />
<line x1="315.60" y1="637.50" x2="322.60" y2="637.50" stroke="#6e6e6e" stroke-width="1.3" />
<rect x="42.90" y="604.80" width="116.40" height="100.50" fill="white" stroke="#d9d9d9" stroke-width="0.8" rx="3" fill-opacity="0.8"/>
<text x="92.60" y="615.00" font-size="12.5" text-anchor="start" stroke="#1a1a1a" stroke-width="0.2" >Day</text>
<rect x="46.10" y="623.20" width="19.90" height="7.20" fill="#fdfdfd" stroke="#7a7a7a" stroke-width="0.8" />
<text x="73.60" y="630.20" font-size="12.5" text-anchor="start" stroke="#1a1a1a" stroke-width="0.2" >1</text>
<rect x="46.10" y="637.20" width="19.90" height="7.20" fill="#e6e6e6" stroke="#7a7a7a" stroke-width="0.8" />
<text x="73.60" y="644.20" font-size="12.5" text-anchor="start" stroke="#1a1a1a" stroke-width="0.2" >2</text>
<rect x="46.10" y="651.20" width="19.90" height="7.20" fill="#cfcfcf" stroke="#7a7a7a" stroke-width="0.8" />
<text x="73.60" y="658.20" font-size="12.5" text-anchor="start" stroke="#1a1a1a" stroke-width="0.2" >3</text>
<rect x="46.10" y="665.20" width="19.90" height="7.20" fill="#b4b4b4" stroke="#7a7a7a" stroke-width="0.8" />
<text x="73.60" y="672.20" font-size="12.5" text-anchor="start" stroke="#1a1a1a" stroke-width="0.2" >4</text>
<rect x="46.10" y="679.20" width="19.90" height="7.20" fill="#9a9a9a" stroke="#7a7a7a" stroke-width="0.8" />
<text x="73.60" y="686.20" font-size="12.5" text-anchor="start" stroke="#1a1a1a" stroke-width="0.2" >5</text>
<rect x="46.10" y="693.20" width="19.90" height="7.20" fill="#828282" stroke="#7a7a7a" stroke-width="0.8" />
<text x="73.60" y="700.20" font-size="12.5" text-anchor="start" stroke="#1a1a1a" stroke-width="0.2" >6</text>
<rect x="107.20" y="623.20" width="19.90" height="7.20" fill="#686868" stroke="#7a7a7a" stroke-width="0.8" />
<text x="134.30" y="630.20" font-size="12.5" text-anchor="start" stroke="#1a1a1a" stroke-width="0.2" >7</text>
<rect x="107.20" y="637.20" width="19.90" height="7.20" fill="#525252" stroke="#7a7a7a" stroke-width="0.8" />
<text x="134.30" y="644.20" font-size="12.5" text-anchor="start" stroke="#1a1a1a" stroke-width="0.2" >10</text>
<rect x="107.20" y="651.20" width="19.90" height="7.20" fill="#363636" stroke="#7a7a7a" stroke-width="0.8" />
<text x="134.30" y="658.20" font-size="12.5" text-anchor="start" stroke="#1a1a1a" stroke-width="0.2" >14</text>
<rect x="107.20" y="665.20" width="19.90" height="7.20" fill="#1c1c1c" stroke="#7a7a7a" stroke-width="0.8" />
<text x="134.30" y="672.20" font-size="12.5" text-anchor="start" stroke="#1a1a1a" stroke-width="0.2" >21</text>
<rect x="107.20" y="679.20" width="19.90" height="7.20" fill="#020202" stroke="#7a7a7a" stroke-width="0.8" />
<text x="134.30" y="686.20" font-size="12.5" text-anchor="start" stroke="#1a1a1a" stroke-width="0.2" >28</text>
<line x1="35.10" y1="472.52" x2="38.50" y2="472.52" stroke="#555" stroke-width="1" />
<text x="33.80" y="477.22" font-size="15.5" text-anchor="end" stroke="#1a1a1a" stroke-width="0.2" >4</text>
<line x1="35.10" y1="529.46" x2="38.50" y2="529.46" stroke="#555" stroke-width="1" />
<text x="33.80" y="534.16" font-size="15.5" text-anchor="end" stroke="#1a1a1a" stroke-width="0.2" >2</text>
<line x1="35.10" y1="586.40" x2="38.50" y2="586.40" stroke="#555" stroke-width="1" />
<text x="33.80" y="591.10" font-size="15.5" text-anchor="end" stroke="#1a1a1a" stroke-width="0.2" >0</text>
<line x1="35.10" y1="643.34" x2="38.50" y2="643.34" stroke="#555" stroke-width="1" />
<text x="33.80" y="648.04" font-size="15.5" text-anchor="end" stroke="#1a1a1a" stroke-width="0.2" >−2</text>
<line x1="35.10" y1="700.28" x2="38.50" y2="700.28" stroke="#555" stroke-width="1" />
<text x="33.80" y="704.98" font-size="15.5" text-anchor="end" stroke="#1a1a1a" stroke-width="0.2" >−4</text>
<line x1="87.60" y1="710.30" x2="87.60" y2="713.00" stroke="#555" stroke-width="1" />
<text x="84.90" y="724.80" font-size="12.5" text-anchor="middle" stroke="#1a1a1a" stroke-width="0.2" textLength="19.60" lengthAdjust="spacing" >4.0</text>
<line x1="185.50" y1="710.30" x2="185.50" y2="713.00" stroke="#555" stroke-width="1" />
<text x="184.40" y="724.80" font-size="12.5" text-anchor="middle" stroke="#1a1a1a" stroke-width="0.2" textLength="27.40" lengthAdjust="spacing" >17.0</text>
<line x1="283.30" y1="710.30" x2="283.30" y2="713.00" stroke="#555" stroke-width="1" />
<text x="282.70" y="724.80" font-size="12.5" text-anchor="middle" stroke="#1a1a1a" stroke-width="0.2" textLength="27.40" lengthAdjust="spacing" >30.0</text>
<text x="57.90" y="419.20" font-size="12.5" text-anchor="start" stroke="#1a1a1a" stroke-width="0.2" textLength="259.50" lengthAdjust="spacing" >Enriched vs. outcompeted bacterial taxa</text>
<text x="121.60" y="740.90" font-size="13.0" text-anchor="start" stroke="#1a1a1a" stroke-width="0.2" textLength="110.00" lengthAdjust="spacing" >Temperature (°C)</text>
<text x="9.80" y="657.20" font-size="12.5" text-anchor="start" stroke="#1a1a1a" stroke-width="0.2" textLength="191.00" lengthAdjust="spacing" transform="rotate(-90 9.80 657.20)" >Log-ratio (+ gmean / - gmean)</text>
<rect x="398.50" y="423.40" width="285.60" height="287.00" fill="none" stroke="#555" stroke-width="1.2" />
<line x1="411.20" y1="488.20" x2="411.20" y2="497.30" stroke="#6e6e6e" stroke-width="1.3" />
<line x1="411.20" y1="516.30" x2="411.20" y2="526.20" stroke="#6e6e6e" stroke-width="1.3" />
<line x1="408.78" y1="488.20" x2="413.62" y2="488.20" stroke="#6e6e6e" stroke-width="1.3" />
<line x1="408.78" y1="526.20" x2="413.62" y2="526.20" stroke="#6e6e6e" stroke-width="1.3" />
<rect x="408.25" y="497.30" width="5.90" height="19.00" fill="#fdfdfd" stroke="#6e6e6e" stroke-width="1.2" />
<line x1="408.25" y1="507.20" x2="414.15" y2="507.20" stroke="#6e6e6e" stroke-width="1.2" />
<line x1="418.17" y1="494.70" x2="418.17" y2="505.70" stroke="#6e6e6e" stroke-width="1.3" />
<line x1="418.17" y1="529.30" x2="418.17" y2="541.50" stroke="#6e6e6e" stroke-width="1.3" />
<line x1="415.75" y1="494.70" x2="420.59" y2="494.70" stroke="#6e6e6e" stroke-width="1.3" />
<line x1="415.75" y1="541.50" x2="420.59" y2="541.50" stroke="#6e6e6e" stroke-width="1.3" />
<rect x="415.22" y="505.70" width="5.90" height="23.60" fill="#e6e6e6" stroke="#6e6e6e" stroke-width="1.2" />
<line x1="415.22" y1="516.60" x2="421.12" y2="516.60" stroke="#6e6e6e" stroke-width="1.2" />
<line x1="425.14" y1="466.10" x2="425.14" y2="474.50" stroke="#6e6e6e" stroke-width="1.3" />
<line x1="425.14" y1="492.70" x2="425.14" y2="504.20" stroke="#6e6e6e" stroke-width="1.3" />
<line x1="422.72" y1="466.10" x2="427.56" y2="466.10" stroke="#6e6e6e" stroke-width="1.3" />
<line x1="422.72" y1="504.20" x2="427.56" y2="504.20" stroke="#6e6e6e" stroke-width="1.3" />
<rect x="422.19" y="474.50" width="5.90" height="18.20" fill="#cfcfcf" stroke="#6e6e6e" stroke-width="1.2" />
<line x1="422.19" y1="482.50" x2="428.09" y2="482.50" stroke="#6e6e6e" stroke-width="1.2" />
<line x1="432.11" y1="483.10" x2="432.11" y2="500.40" stroke="#6e6e6e" stroke-width="1.3" />
<line x1="432.11" y1="534.30" x2="432.11" y2="551.40" stroke="#6e6e6e" stroke-width="1.3" />
<line x1="429.69" y1="483.10" x2="434.53" y2="483.10" stroke="#6e6e6e" stroke-width="1.3" />
<line x1="429.69" y1="551.40" x2="434.53" y2="551.40" stroke="#6e6e6e" stroke-width="1.3" />
<rect x="429.16" y="500.40" width="5.90" height="33.90" fill="#b4b4b4" stroke="#6e6e6e" stroke-width="1.2" />
<line x1="429.16" y1="517.10" x2="435.06" y2="517.10" stroke="#6e6e6e" stroke-width="1.2" />
<line x1="439.08" y1="521.40" x2="439.08" y2="527.80" stroke="#6e6e6e" stroke-width="1.3" />
<line x1="439.08" y1="537.40" x2="439.08" y2="542.20" stroke="#6e6e6e" stroke-width="1.3" />
<line x1="436.66" y1="521.40" x2="441.50" y2="521.40" stroke="#6e6e6e" stroke-width="1.3" />
<line x1="436.66" y1="542.20" x2="441.50" y2="542.20" stroke="#6e6e6e" stroke-width="1.3" />
<rect x="436.13" y="527.80" width="5.90" height="9.60" fill="#9a9a9a" stroke="#6e6e6e" stroke-width="1.2" />
<line x1="436.13" y1="532.30" x2="442.03" y2="532.30" stroke="#6e6e6e" stroke-width="1.2" />
<line x1="446.05" y1="496.10" x2="446.05" y2="516.00" stroke="#6e6e6e" stroke-width="1.3" />
<line x1="446.05" y1="536.90" x2="446.05" y2="539.50" stroke="#6e6e6e" stroke-width="1.3" />
<line x1="443.63" y1="496.10" x2="448.47" y2="496.10" stroke="#6e6e6e" stroke-width="1.3" />
<line x1="443.63" y1="539.50" x2="448.47" y2="539.50" stroke="#6e6e6e" stroke-width="1.3" />
<rect x="443.10" y="516.00" width="5.90" height="20.90" fill="#828282" stroke="#6e6e6e" stroke-width="1.2" />
<line x1="443.10" y1="535.40" x2="449.00" y2="535.40" stroke="#6e6e6e" stroke-width="1.2" />
<line x1="453.02" y1="515.60" x2="453.02" y2="520.60" stroke="#6e6e6e" stroke-width="1.3" />
<line x1="453.02" y1="538.40" x2="453.02" y2="551.80" stroke="#6e6e6e" stroke-width="1.3" />
<line x1="450.60" y1="515.60" x2="455.44" y2="515.60" stroke="#6e6e6e" stroke-width="1.3" />
<line x1="450.60" y1="551.80" x2="455.44" y2="551.80" stroke="#6e6e6e" stroke-width="1.3" />
<rect x="450.07" y="520.60" width="5.90" height="17.80" fill="#686868" stroke="#6e6e6e" stroke-width="1.2" />
<line x1="450.07" y1="525.50" x2="455.97" y2="525.50" stroke="#6e6e6e" stroke-width="1.2" />
<line x1="459.99" y1="495.30" x2="459.99" y2="521.20" stroke="#6e6e6e" stroke-width="1.3" />
<line x1="459.99" y1="567.10" x2="459.99" y2="586.10" stroke="#6e6e6e" stroke-width="1.3" />
<line x1="457.57" y1="495.30" x2="462.41" y2="495.30" stroke="#6e6e6e" stroke-width="1.3" />
<line x1="457.57" y1="586.10" x2="462.41" y2="586.10" stroke="#6e6e6e" stroke-width="1.3" />
<rect x="457.04" y="521.20" width="5.90" height="45.90" fill="#525252" stroke="#6e6e6e" stroke-width="1.2" />
<line x1="457.04" y1="547.30" x2="462.94" y2="547.30" stroke="#6e6e6e" stroke-width="1.2" />
<line x1="466.96" y1="483.90" x2="466.96" y2="497.30" stroke="#6e6e6e" stroke-width="1.3" />
<line x1="466.96" y1="522.40" x2="466.96" y2="535.40" stroke="#6e6e6e" stroke-width="1.3" />
<line x1="464.54" y1="483.90" x2="469.38" y2="483.90" stroke="#6e6e6e" stroke-width="1.3" />
<line x1="464.54" y1="535.40" x2="469.38" y2="535.40" stroke="#6e6e6e" stroke-width="1.3" />
<rect x="464.01" y="497.30" width="5.90" height="25.10" fill="#363636" stroke="#6e6e6e" stroke-width="1.2" />
<line x1="464.01" y1="511.00" x2="469.91" y2="511.00" stroke="#6e6e6e" stroke-width="1.2" />
<line x1="473.93" y1="491.20" x2="473.93" y2="518.30" stroke="#6e6e6e" stroke-width="1.3" />
<line x1="473.93" y1="551.40" x2="473.93" y2="557.20" stroke="#6e6e6e" stroke-width="1.3" />
<line x1="471.51" y1="491.20" x2="476.35" y2="491.20" stroke="#6e6e6e" stroke-width="1.3" />
<line x1="471.51" y1="557.20" x2="476.35" y2="557.20" stroke="#6e6e6e" stroke-width="1.3" />
<rect x="470.98" y="518.30" width="5.90" height="33.10" fill="#1c1c1c" stroke="#6e6e6e" stroke-width="1.2" />
<line x1="470.98" y1="545.30" x2="476.88" y2="545.30" stroke="#6e6e6e" stroke-width="1.2" />
<line x1="480.90" y1="436.60" x2="480.90" y2="458.50" stroke="#6e6e6e" stroke-width="1.3" />
<line x1="480.90" y1="501.90" x2="480.90" y2="524.40" stroke="#6e6e6e" stroke-width="1.3" />
<line x1="478.48" y1="436.60" x2="483.31" y2="436.60" stroke="#6e6e6e" stroke-width="1.3" />
<line x1="478.48" y1="524.40" x2="483.31" y2="524.40" stroke="#6e6e6e" stroke-width="1.3" />
<rect x="477.95" y="458.50" width="5.90" height="43.40" fill="#020202" stroke="#6e6e6e" stroke-width="1.2" />
<line x1="477.95" y1="480.30" x2="483.85" y2="480.30" stroke="#6e6e6e" stroke-width="1.2" />
<line x1="506.40" y1="481.70" x2="506.40" y2="491.40" stroke="#6e6e6e" stroke-width="1.3" />
<line x1="506.40" y1="539.50" x2="506.40" y2="577.60" stroke="#6e6e6e" stroke-width="1.3" />
<line x1="503.98" y1="481.70" x2="508.81" y2="481.70" stroke="#6e6e6e" stroke-width="1.3" />
<line x1="503.98" y1="577.60" x2="508.81" y2="577.60" stroke="#6e6e6e" stroke-width="1.3" />
<rect x="503.45" y="491.40" width="5.90" height="48.10" fill="#fdfdfd" stroke="#6e6e6e" stroke-width="1.2" />
<line x1="503.45" y1="501.50" x2="509.35" y2="501.50" stroke="#6e6e6e" stroke-width="1.2" />
<line x1="513.37" y1="508.30" x2="513.37" y2="525.70" stroke="#6e6e6e" stroke-width="1.3" />
<line x1="513.37" y1="552.30" x2="513.37" y2="561.50" stroke="#6e6e6e" stroke-width="1.3" />
<line x1="510.95" y1="508.30" x2="515.78" y2="508.30" stroke="#6e6e6e" stroke-width="1.3" />
<line x1="510.95" y1="561.50" x2="515.78" y2="561.50" stroke="#6e6e6e" stroke-width="1.3" />
<rect x="510.42" y="525.70" width="5.90" height="26.60" fill="#e6e6e6" stroke="#6e6e6e" stroke-width="1.2" />
<line x1="510.42" y1="543.20" x2="516.32" y2="543.20" stroke="#6e6e6e" stroke-width="1.2" />
<line x1="520.34" y1="517.80" x2="520.34" y2="522.30" stroke="#6e6e6e" stroke-width="1.3" />
<line x1="520.34" y1="545.50" x2="520.34" y2="563.40" stroke="#6e6e6e" stroke-width="1.3" />
<line x1="517.93" y1="517.80" x2="522.75" y2="517.80" stroke="#6e6e6e" stroke-width="1.3" />
<line x1="517.93" y1="563.40" x2="522.75" y2="563.40" stroke="#6e6e6e" stroke-width="1.3" />
<rect x="517.39" y="522.30" width="5.90" height="23.20" fill="#cfcfcf" stroke="#6e6e6e" stroke-width="1.2" />
<line x1="517.39" y1="527.40" x2="523.29" y2="527.40" stroke="#6e6e6e" stroke-width="1.2" />
<line x1="527.31" y1="500.30" x2="527.31" y2="508.30" stroke="#6e6e6e" stroke-width="1.3" />
<line x1="527.31" y1="533.30" x2="527.31" y2="549.70" stroke="#6e6e6e" stroke-width="1.3" />
<line x1="524.89" y1="500.30" x2="529.72" y2="500.30" stroke="#6e6e6e" stroke-width="1.3" />
<line x1="524.89" y1="549.70" x2="529.72" y2="549.70" stroke="#6e6e6e" stroke-width="1.3" />
<rect x="524.36" y="508.30" width="5.90" height="25.00" fill="#b4b4b4" stroke="#6e6e6e" stroke-width="1.2" />
<line x1="524.36" y1="516.20" x2="530.26" y2="516.20" stroke="#6e6e6e" stroke-width="1.2" />
<line x1="534.28" y1="484.60" x2="534.28" y2="506.00" stroke="#6e6e6e" stroke-width="1.3" />
<line x1="534.28" y1="529.20" x2="534.28" y2="529.50" stroke="#6e6e6e" stroke-width="1.3" />
<line x1="531.87" y1="484.60" x2="536.69" y2="484.60" stroke="#6e6e6e" stroke-width="1.3" />
<line x1="531.87" y1="529.50" x2="536.69" y2="529.50" stroke="#6e6e6e" stroke-width="1.3" />
<rect x="531.33" y="506.00" width="5.90" height="23.20" fill="#9a9a9a" stroke="#6e6e6e" stroke-width="1.2" />
<line x1="531.33" y1="528.40" x2="537.23" y2="528.40" stroke="#6e6e6e" stroke-width="1.2" />
<line x1="541.25" y1="534.20" x2="541.25" y2="545.90" stroke="#6e6e6e" stroke-width="1.3" />
<line x1="541.25" y1="577.20" x2="541.25" y2="596.50" stroke="#6e6e6e" stroke-width="1.3" />
<line x1="538.84" y1="534.20" x2="543.66" y2="534.20" stroke="#6e6e6e" stroke-width="1.3" />
<line x1="538.84" y1="596.50" x2="543.66" y2="596.50" stroke="#6e6e6e" stroke-width="1.3" />
<rect x="538.30" y="545.90" width="5.90" height="31.30" fill="#828282" stroke="#6e6e6e" stroke-width="1.2" />
<line x1="538.30" y1="557.40" x2="544.20" y2="557.40" stroke="#6e6e6e" stroke-width="1.2" />
<line x1="548.22" y1="481.20" x2="548.22" y2="493.40" stroke="#6e6e6e" stroke-width="1.3" />
<line x1="548.22" y1="550.50" x2="548.22" y2="595.40" stroke="#6e6e6e" stroke-width="1.3" />
<line x1="545.81" y1="481.20" x2="550.63" y2="481.20" stroke="#6e6e6e" stroke-width="1.3" />
<line x1="545.81" y1="595.40" x2="550.63" y2="595.40" stroke="#6e6e6e" stroke-width="1.3" />
<rect x="545.27" y="493.40" width="5.90" height="57.10" fill="#686868" stroke="#6e6e6e" stroke-width="1.2" />
<line x1="545.27" y1="505.10" x2="551.17" y2="505.10" stroke="#6e6e6e" stroke-width="1.2" />
<line x1="555.19" y1="505.60" x2="555.19" y2="516.20" stroke="#6e6e6e" stroke-width="1.3" />
<line x1="555.19" y1="545.20" x2="555.19" y2="563.10" stroke="#6e6e6e" stroke-width="1.3" />
<line x1="552.77" y1="505.60" x2="557.60" y2="505.60" stroke="#6e6e6e" stroke-width="1.3" />
<line x1="552.77" y1="563.10" x2="557.60" y2="563.10" stroke="#6e6e6e" stroke-width="1.3" />
<rect x="552.24" y="516.20" width="5.90" height="29.00" fill="#525252" stroke="#6e6e6e" stroke-width="1.2" />
<line x1="552.24" y1="526.90" x2="558.14" y2="526.90" stroke="#6e6e6e" stroke-width="1.2" />
<line x1="562.16" y1="524.60" x2="562.16" y2="528.90" stroke="#6e6e6e" stroke-width="1.3" />
<line x1="562.16" y1="537.10" x2="562.16" y2="541.40" stroke="#6e6e6e" stroke-width="1.3" />
<line x1="559.75" y1="524.60" x2="564.57" y2="524.60" stroke="#6e6e6e" stroke-width="1.3" />
<line x1="559.75" y1="541.40" x2="564.57" y2="541.40" stroke="#6e6e6e" stroke-width="1.3" />
<rect x="559.21" y="528.90" width="5.90" height="8.20" fill="#363636" stroke="#6e6e6e" stroke-width="1.2" />
<line x1="559.21" y1="533.30" x2="565.11" y2="533.30" stroke="#6e6e6e" stroke-width="1.2" />
<line x1="569.13" y1="479.20" x2="569.13" y2="495.40" stroke="#6e6e6e" stroke-width="1.3" />
<line x1="569.13" y1="527.70" x2="569.13" y2="544.40" stroke="#6e6e6e" stroke-width="1.3" />
<line x1="566.72" y1="479.20" x2="571.54" y2="479.20" stroke="#6e6e6e" stroke-width="1.3" />
<line x1="566.72" y1="544.40" x2="571.54" y2="544.40" stroke="#6e6e6e" stroke-width="1.3" />
<rect x="566.18" y="495.40" width="5.90" height="32.30" fill="#1c1c1c" stroke="#6e6e6e" stroke-width="1.2" />
<line x1="566.18" y1="511.70" x2="572.08" y2="511.70" stroke="#6e6e6e" stroke-width="1.2" />
<line x1="576.10" y1="452.30" x2="576.10" y2="480.50" stroke="#6e6e6e" stroke-width="1.3" />
<line x1="576.10" y1="528.40" x2="576.10" y2="548.20" stroke="#6e6e6e" stroke-width="1.3" />
<line x1="573.69" y1="452.30" x2="578.51" y2="452.30" stroke="#6e6e6e" stroke-width="1.3" />
<line x1="573.69" y1="548.20" x2="578.51" y2="548.20" stroke="#6e6e6e" stroke-width="1.3" />
<rect x="573.15" y="480.50" width="5.90" height="47.90" fill="#020202" stroke="#6e6e6e" stroke-width="1.2" />
<line x1="573.15" y1="508.20" x2="579.05" y2="508.20" stroke="#6e6e6e" stroke-width="1.2" />
<line x1="601.50" y1="517.80" x2="601.50" y2="520.40" stroke="#6e6e6e" stroke-width="1.3" />
<line x1="601.50" y1="553.50" x2="601.50" y2="584.30" stroke="#6e6e6e" stroke-width="1.3" />
<line x1="599.09" y1="517.80" x2="603.91" y2="517.80" stroke="#6e6e6e" stroke-width="1.3" />
<line x1="599.09" y1="584.30" x2="603.91" y2="584.30" stroke="#6e6e6e" stroke-width="1.3" />
<rect x="598.55" y="520.40" width="5.90" height="33.10" fill="#fdfdfd" stroke="#6e6e6e" stroke-width="1.2" />
<line x1="598.55" y1="522.80" x2="604.45" y2="522.80" stroke="#6e6e6e" stroke-width="1.2" />
<line x1="608.47" y1="483.20" x2="608.47" y2="495.70" stroke="#6e6e6e" stroke-width="1.3" />
<line x1="608.47" y1="554.30" x2="608.47" y2="600.50" stroke="#6e6e6e" stroke-width="1.3" />
<line x1="606.06" y1="483.20" x2="610.88" y2="483.20" stroke="#6e6e6e" stroke-width="1.3" />
<line x1="606.06" y1="600.50" x2="610.88" y2="600.50" stroke="#6e6e6e" stroke-width="1.3" />
<rect x="605.52" y="495.70" width="5.90" height="58.60" fill="#e6e6e6" stroke="#6e6e6e" stroke-width="1.2" />
<line x1="605.52" y1="508.20" x2="611.42" y2="508.20" stroke="#6e6e6e" stroke-width="1.2" />
<line x1="615.44" y1="471.30" x2="615.44" y2="480.50" stroke="#6e6e6e" stroke-width="1.3" />
<line x1="615.44" y1="515.50" x2="615.44" y2="540.60" stroke="#6e6e6e" stroke-width="1.3" />
<line x1="613.03" y1="471.30" x2="617.86" y2="471.30" stroke="#6e6e6e" stroke-width="1.3" />
<line x1="613.03" y1="540.60" x2="617.86" y2="540.60" stroke="#6e6e6e" stroke-width="1.3" />
<rect x="612.49" y="480.50" width="5.90" height="35.00" fill="#cfcfcf" stroke="#6e6e6e" stroke-width="1.2" />
<line x1="612.49" y1="490.40" x2="618.39" y2="490.40" stroke="#6e6e6e" stroke-width="1.2" />
<line x1="622.41" y1="526.90" x2="622.41" y2="531.50" stroke="#6e6e6e" stroke-width="1.3" />
<line x1="622.41" y1="564.20" x2="622.41" y2="593.40" stroke="#6e6e6e" stroke-width="1.3" />
<line x1="620.00" y1="526.90" x2="624.82" y2="526.90" stroke="#6e6e6e" stroke-width="1.3" />
<line x1="620.00" y1="593.40" x2="624.82" y2="593.40" stroke="#6e6e6e" stroke-width="1.3" />
<rect x="619.46" y="531.50" width="5.90" height="32.70" fill="#b4b4b4" stroke="#6e6e6e" stroke-width="1.2" />
<line x1="619.46" y1="533.80" x2="625.36" y2="533.80" stroke="#6e6e6e" stroke-width="1.2" />
<line x1="629.38" y1="515.80" x2="629.38" y2="530.70" stroke="#6e6e6e" stroke-width="1.3" />
<line x1="629.38" y1="558.60" x2="629.38" y2="572.30" stroke="#6e6e6e" stroke-width="1.3" />
<line x1="626.97" y1="515.80" x2="631.79" y2="515.80" stroke="#6e6e6e" stroke-width="1.3" />
<line x1="626.97" y1="572.30" x2="631.79" y2="572.30" stroke="#6e6e6e" stroke-width="1.3" />
<rect x="626.43" y="530.70" width="5.90" height="27.90" fill="#9a9a9a" stroke="#6e6e6e" stroke-width="1.2" />
<line x1="626.43" y1="545.60" x2="632.33" y2="545.60" stroke="#6e6e6e" stroke-width="1.2" />
<line x1="636.35" y1="539.80" x2="636.35" y2="542.90" stroke="#6e6e6e" stroke-width="1.3" />
<line x1="636.35" y1="562.70" x2="636.35" y2="579.10" stroke="#6e6e6e" stroke-width="1.3" />
<line x1="633.94" y1="539.80" x2="638.76" y2="539.80" stroke="#6e6e6e" stroke-width="1.3" />
<line x1="633.94" y1="579.10" x2="638.76" y2="579.10" stroke="#6e6e6e" stroke-width="1.3" />
<rect x="633.40" y="542.90" width="5.90" height="19.80" fill="#828282" stroke="#6e6e6e" stroke-width="1.2" />
<line x1="633.40" y1="545.20" x2="639.30" y2="545.20" stroke="#6e6e6e" stroke-width="1.2" />
<line x1="643.32" y1="525.40" x2="643.32" y2="533.40" stroke="#6e6e6e" stroke-width="1.3" />
<line x1="643.32" y1="549.30" x2="643.32" y2="557.10" stroke="#6e6e6e" stroke-width="1.3" />
<line x1="640.91" y1="525.40" x2="645.74" y2="525.40" stroke="#6e6e6e" stroke-width="1.3" />
<line x1="640.91" y1="557.10" x2="645.74" y2="557.10" stroke="#6e6e6e" stroke-width="1.3" />
<rect x="640.37" y="533.40" width="5.90" height="15.90" fill="#686868" stroke="#6e6e6e" stroke-width="1.2" />
<line x1="640.37" y1="541.40" x2="646.27" y2="541.40" stroke="#6e6e6e" stroke-width="1.2" />
<line x1="650.29" y1="541.40" x2="650.29" y2="566.50" stroke="#6e6e6e" stroke-width="1.3" />
<line x1="650.29" y1="595.40" x2="650.29" y2="597.70" stroke="#6e6e6e" stroke-width="1.3" />
<line x1="647.88" y1="541.40" x2="652.70" y2="541.40" stroke="#6e6e6e" stroke-width="1.3" />
<line x1="647.88" y1="597.70" x2="652.70" y2="597.70" stroke="#6e6e6e" stroke-width="1.3" />
<rect x="647.34" y="566.50" width="5.90" height="28.90" fill="#525252" stroke="#6e6e6e" stroke-width="1.2" />
<line x1="647.34" y1="592.40" x2="653.24" y2="592.40" stroke="#6e6e6e" stroke-width="1.2" />
<line x1="657.26" y1="505.60" x2="657.26" y2="539.50" stroke="#6e6e6e" stroke-width="1.3" />
<line x1="657.26" y1="581.70" x2="657.26" y2="590.10" stroke="#6e6e6e" stroke-width="1.3" />
<line x1="654.85" y1="505.60" x2="659.67" y2="505.60" stroke="#6e6e6e" stroke-width="1.3" />
<line x1="654.85" y1="590.10" x2="659.67" y2="590.10" stroke="#6e6e6e" stroke-width="1.3" />
<rect x="654.31" y="539.50" width="5.90" height="42.20" fill="#363636" stroke="#6e6e6e" stroke-width="1.2" />
<line x1="654.31" y1="573.30" x2="660.21" y2="573.30" stroke="#6e6e6e" stroke-width="1.2" />
<line x1="664.23" y1="507.90" x2="664.23" y2="555.40" stroke="#6e6e6e" stroke-width="1.3" />
<line x1="664.23" y1="649.60" x2="664.23" y2="697.10" stroke="#6e6e6e" stroke-width="1.3" />
<line x1="661.82" y1="507.90" x2="666.64" y2="507.90" stroke="#6e6e6e" stroke-width="1.3" />
<line x1="661.82" y1="697.10" x2="666.64" y2="697.10" stroke="#6e6e6e" stroke-width="1.3" />
<rect x="661.28" y="555.40" width="5.90" height="94.20" fill="#1c1c1c" stroke="#6e6e6e" stroke-width="1.2" />
<line x1="661.28" y1="602.40" x2="667.18" y2="602.40" stroke="#6e6e6e" stroke-width="1.2" />
<line x1="671.20" y1="519.70" x2="671.20" y2="532.50" stroke="#6e6e6e" stroke-width="1.3" />
<line x1="671.20" y1="557.10" x2="671.20" y2="569.50" stroke="#6e6e6e" stroke-width="1.3" />
<line x1="668.79" y1="519.70" x2="673.62" y2="519.70" stroke="#6e6e6e" stroke-width="1.3" />
<line x1="668.79" y1="569.50" x2="673.62" y2="569.50" stroke="#6e6e6e" stroke-width="1.3" />
<rect x="668.25" y="532.50" width="5.90" height="24.60" fill="#020202" stroke="#6e6e6e" stroke-width="1.2" />
<line x1="668.25" y1="544.10" x2="674.15" y2="544.10" stroke="#6e6e6e" stroke-width="1.2" />
<rect x="403.80" y="603.90" width="116.00" height="101.20" fill="white" stroke="#d9d9d9" stroke-width="0.8" rx="3" fill-opacity="0.8"/>
<text x="453.00" y="615.00" font-size="12.5" text-anchor="start" stroke="#1a1a1a" stroke-width="0.2" >Day</text>
<rect x="407.00" y="622.50" width="19.70" height="7.00" fill="#fdfdfd" stroke="#7a7a7a" stroke-width="0.8" />
<text x="434.60" y="629.40" font-size="12.5" text-anchor="start" stroke="#1a1a1a" stroke-width="0.2" >1</text>
<rect x="407.00" y="636.45" width="19.70" height="7.00" fill="#e6e6e6" stroke="#7a7a7a" stroke-width="0.8" />
<text x="434.60" y="643.35" font-size="12.5" text-anchor="start" stroke="#1a1a1a" stroke-width="0.2" >2</text>
<rect x="407.00" y="650.40" width="19.70" height="7.00" fill="#cfcfcf" stroke="#7a7a7a" stroke-width="0.8" />
<text x="434.60" y="657.30" font-size="12.5" text-anchor="start" stroke="#1a1a1a" stroke-width="0.2" >3</text>
<rect x="407.00" y="664.35" width="19.70" height="7.00" fill="#b4b4b4" stroke="#7a7a7a" stroke-width="0.8" />
<text x="434.60" y="671.25" font-size="12.5" text-anchor="start" stroke="#1a1a1a" stroke-width="0.2" >4</text>
<rect x="407.00" y="678.30" width="19.70" height="7.00" fill="#9a9a9a" stroke="#7a7a7a" stroke-width="0.8" />
<text x="434.60" y="685.20" font-size="12.5" text-anchor="start" stroke="#1a1a1a" stroke-width="0.2" >5</text>
<rect x="407.00" y="692.25" width="19.70" height="7.00" fill="#828282" stroke="#7a7a7a" stroke-width="0.8" />
<text x="434.60" y="699.15" font-size="12.5" text-anchor="start" stroke="#1a1a1a" stroke-width="0.2" >6</text>
<rect x="468.20" y="622.50" width="19.70" height="7.00" fill="#686868" stroke="#7a7a7a" stroke-width="0.8" />
<text x="495.00" y="629.40" font-size="12.5" text-anchor="start" stroke="#1a1a1a" stroke-width="0.2" >7</text>
<rect x="468.20" y="636.45" width="19.70" height="7.00" fill="#525252" stroke="#7a7a7a" stroke-width="0.8" />
<text x="495.00" y="643.35" font-size="12.5" text-anchor="start" stroke="#1a1a1a" stroke-width="0.2" >10</text>
<rect x="468.20" y="650.40" width="19.70" height="7.00" fill="#363636" stroke="#7a7a7a" stroke-width="0.8" />
<text x="495.00" y="657.30" font-size="12.5" text-anchor="start" stroke="#1a1a1a" stroke-width="0.2" >14</text>
<rect x="468.20" y="664.35" width="19.70" height="7.00" fill="#1c1c1c" stroke="#7a7a7a" stroke-width="0.8" />
<text x="495.00" y="671.25" font-size="12.5" text-anchor="start" stroke="#1a1a1a" stroke-width="0.2" >21</text>
<rect x="468.20" y="678.30" width="19.70" height="7.00" fill="#020202" stroke="#7a7a7a" stroke-width="0.8" />
<text x="495.00" y="685.20" font-size="12.5" text-anchor="start" stroke="#1a1a1a" stroke-width="0.2" >28</text>
<line x1="398.50" y1="652.50" x2="684.10" y2="652.50" stroke="#777" stroke-width="1.2" stroke-dasharray="4.5,3"/>
<line x1="395.60" y1="429.00" x2="398.50" y2="429.00" stroke="#555" stroke-width="1" />
<text x="392.50" y="431.50" font-size="12.0" text-anchor="end" stroke="#1a1a1a" stroke-width="0.2" textLength="19.00" lengthAdjust="spacing" >3.5</text>
<line x1="395.60" y1="460.90" x2="398.50" y2="460.90" stroke="#555" stroke-width="1" />
<text x="392.50" y="463.40" font-size="12.0" text-anchor="end" stroke="#1a1a1a" stroke-width="0.2" textLength="19.00" lengthAdjust="spacing" >3.0</text>
<line x1="395.60" y1="492.80" x2="398.50" y2="492.80" stroke="#555" stroke-width="1" />
<text x="392.50" y="495.30" font-size="12.0" text-anchor="end" stroke="#1a1a1a" stroke-width="0.2" textLength="19.00" lengthAdjust="spacing" >2.5</text>
<line x1="395.60" y1="524.70" x2="398.50" y2="524.70" stroke="#555" stroke-width="1" />
<text x="392.50" y="527.20" font-size="12.0" text-anchor="end" stroke="#1a1a1a" stroke-width="0.2" textLength="19.00" lengthAdjust="spacing" >2.0</text>
<line x1="395.60" y1="556.60" x2="398.50" y2="556.60" stroke="#555" stroke-width="1" />
<text x="392.50" y="559.10" font-size="12.0" text-anchor="end" stroke="#1a1a1a" stroke-width="0.2" textLength="19.00" lengthAdjust="spacing" >1.5</text>
<line x1="395.60" y1="588.50" x2="398.50" y2="588.50" stroke="#555" stroke-width="1" />
<text x="392.50" y="591.00" font-size="12.0" text-anchor="end" stroke="#1a1a1a" stroke-width="0.2" textLength="19.00" lengthAdjust="spacing" >1.0</text>
<line x1="395.60" y1="620.40" x2="398.50" y2="620.40" stroke="#555" stroke-width="1" />
<text x="392.50" y="622.90" font-size="12.0" text-anchor="end" stroke="#1a1a1a" stroke-width="0.2" textLength="19.00" lengthAdjust="spacing" >0.5</text>
<line x1="395.60" y1="652.30" x2="398.50" y2="652.30" stroke="#555" stroke-width="1" />
<text x="392.50" y="654.80" font-size="12.0" text-anchor="end" stroke="#1a1a1a" stroke-width="0.2" textLength="19.00" lengthAdjust="spacing" >0.0</text>
<line x1="395.60" y1="684.20" x2="398.50" y2="684.20" stroke="#555" stroke-width="1" />
<text x="392.50" y="686.70" font-size="12.0" text-anchor="end" stroke="#1a1a1a" stroke-width="0.2" textLength="27.00" lengthAdjust="spacing" >−0.5</text>
<line x1="445.90" y1="710.40" x2="445.90" y2="713.00" stroke="#555" stroke-width="1" />
<text x="445.90" y="722.60" font-size="12.5" text-anchor="middle" stroke="#1a1a1a" stroke-width="0.2" >4</text>
<line x1="541.50" y1="710.40" x2="541.50" y2="713.00" stroke="#555" stroke-width="1" />
<text x="541.50" y="722.60" font-size="12.5" text-anchor="middle" stroke="#1a1a1a" stroke-width="0.2" >17</text>
<line x1="636.30" y1="710.40" x2="636.30" y2="713.00" stroke="#555" stroke-width="1" />
<text x="636.30" y="722.60" font-size="12.5" text-anchor="middle" stroke="#1a1a1a" stroke-width="0.2" >30</text>
<text x="420.70" y="418.80" font-size="12.5" text-anchor="start" stroke="#1a1a1a" stroke-width="0.2" textLength="240.00" lengthAdjust="spacing" >Enriched vs. outcompeted fungal taxa</text>
<text x="499.30" y="740.60" font-size="13.0" text-anchor="start" stroke="#1a1a1a" stroke-width="0.2" textLength="110.50" lengthAdjust="spacing" >Temperature (°C)</text>
<text x="365.20" y="657.60" font-size="12.5" text-anchor="start" stroke="#1a1a1a" stroke-width="0.2" textLength="191.50" lengthAdjust="spacing" transform="rotate(-90 365.20 657.60)" >Log-ratio (+ gmean / - gmean)</text>
<path d="M83.50 784.50L83.50 839.90 M83.50 784.50L141.90 784.50 M83.50 839.90L95.20 839.90 M95.20 814.30L95.20 865.60 M95.20 814.30L141.90 814.30 M95.20 865.60L115.60 865.60 M115.60 843.80L115.60 887.50 M115.60 843.80L141.90 843.80 M115.60 887.50L129.60 887.50 M129.60 873.20L129.60 902.60 M129.60 873.20L141.90 873.20 M129.60 902.60L141.90 902.60" stroke="#000" stroke-width="1.6" stroke-linecap="square" fill="none"/>
<rect x="293.80" y="770.30" width="24.19" height="29.60" fill="#adf4e1" stroke="none" stroke-width="0" />
<rect x="317.69" y="770.30" width="24.19" height="29.60" fill="#fcf5fc" stroke="none" stroke-width="0" />
<rect x="341.58" y="770.30" width="24.19" height="29.60" fill="#f8e8f7" stroke="none" stroke-width="0" />
<rect x="365.47" y="770.30" width="24.19" height="29.60" fill="#f8f0f8" stroke="none" stroke-width="0" />
<rect x="389.36" y="770.30" width="24.19" height="29.60" fill="#edc9ec" stroke="none" stroke-width="0" />
<rect x="413.25" y="770.30" width="24.19" height="29.60" fill="#d894db" stroke="none" stroke-width="0" />
<rect x="437.14" y="770.30" width="24.19" height="29.60" fill="#e0a9e1" stroke="none" stroke-width="0" />
<rect x="461.03" y="770.30" width="24.19" height="29.60" fill="#d07fd3" stroke="none" stroke-width="0" />
<rect x="484.92" y="770.30" width="24.19" height="29.60" fill="#db9cdb" stroke="none" stroke-width="0" />
<rect x="508.81" y="770.30" width="24.19" height="29.60" fill="#e6b9e6" stroke="none" stroke-width="0" />
<rect x="532.70" y="770.30" width="24.19" height="29.60" fill="#dfa6e0" stroke="none" stroke-width="0" />
<rect x="556.59" y="770.30" width="24.19" height="29.60" fill="#da98da" stroke="none" stroke-width="0" />
<rect x="293.80" y="799.60" width="24.19" height="29.60" fill="#cc77d1" stroke="none" stroke-width="0" />
<rect x="317.69" y="799.60" width="24.19" height="29.60" fill="#f5fdfb" stroke="none" stroke-width="0" />
<rect x="341.58" y="799.60" width="24.19" height="29.60" fill="#d0f8ee" stroke="none" stroke-width="0" />
<rect x="365.47" y="799.60" width="24.19" height="29.60" fill="#d0f8ee" stroke="none" stroke-width="0" />
<rect x="389.36" y="799.60" width="24.19" height="29.60" fill="#d3f8ef" stroke="none" stroke-width="0" />
<rect x="413.25" y="799.60" width="24.19" height="29.60" fill="#d0f8ee" stroke="none" stroke-width="0" />
<rect x="437.14" y="799.60" width="24.19" height="29.60" fill="#cdf8ed" stroke="none" stroke-width="0" />
<rect x="461.03" y="799.60" width="24.19" height="29.60" fill="#cdf8ed" stroke="none" stroke-width="0" />
<rect x="484.92" y="799.60" width="24.19" height="29.60" fill="#bef6e6" stroke="none" stroke-width="0" />
<rect x="508.81" y="799.60" width="24.19" height="29.60" fill="#7af0d3" stroke="none" stroke-width="0" />
<rect x="532.70" y="799.60" width="24.19" height="29.60" fill="#d1f8ee" stroke="none" stroke-width="0" />
<rect x="556.59" y="799.60" width="24.19" height="29.60" fill="#9ff3dc" stroke="none" stroke-width="0" />
<rect x="293.80" y="828.90" width="24.19" height="29.60" fill="#fbfdfc" stroke="none" stroke-width="0" />
<rect x="317.69" y="828.90" width="24.19" height="29.60" fill="#ecccec" stroke="none" stroke-width="0" />
<rect x="341.58" y="828.90" width="24.19" height="29.60" fill="#efd3ef" stroke="none" stroke-width="0" />
<rect x="365.47" y="828.90" width="24.19" height="29.60" fill="#f5e6f5" stroke="none" stroke-width="0" />
<rect x="389.36" y="828.90" width="24.19" height="29.60" fill="#f3e0f3" stroke="none" stroke-width="0" />
<rect x="413.25" y="828.90" width="24.19" height="29.60" fill="#f5e5f5" stroke="none" stroke-width="0" />
<rect x="437.14" y="828.90" width="24.19" height="29.60" fill="#f6e6f5" stroke="none" stroke-width="0" />
<rect x="461.03" y="828.90" width="24.19" height="29.60" fill="#efcfee" stroke="none" stroke-width="0" />
<rect x="484.92" y="828.90" width="24.19" height="29.60" fill="#eecaed" stroke="none" stroke-width="0" />
<rect x="508.81" y="828.90" width="24.19" height="29.60" fill="#d2f8ef" stroke="none" stroke-width="0" />
<rect x="532.70" y="828.90" width="24.19" height="29.60" fill="#d8f9f0" stroke="none" stroke-width="0" />
<rect x="556.59" y="828.90" width="24.19" height="29.60" fill="#e6bfe8" stroke="none" stroke-width="0" />
<rect x="293.80" y="858.20" width="24.19" height="29.60" fill="#ecc9ec" stroke="none" stroke-width="0" />
<rect x="317.69" y="858.20" width="24.19" height="29.60" fill="#f9fefd" stroke="none" stroke-width="0" />
<rect x="341.58" y="858.20" width="24.19" height="29.60" fill="#fcf9fc" stroke="none" stroke-width="0" />
<rect x="365.47" y="858.20" width="24.19" height="29.60" fill="#efdbf1" stroke="none" stroke-width="0" />
<rect x="389.36" y="858.20" width="24.19" height="29.60" fill="#fdfafd" stroke="none" stroke-width="0" />
<rect x="413.25" y="858.20" width="24.19" height="29.60" fill="#e6faf4" stroke="none" stroke-width="0" />
<rect x="437.14" y="858.20" width="24.19" height="29.60" fill="#f4fcfa" stroke="none" stroke-width="0" />
<rect x="461.03" y="858.20" width="24.19" height="29.60" fill="#f4fcfa" stroke="none" stroke-width="0" />
<rect x="484.92" y="858.20" width="24.19" height="29.60" fill="#e9fbf6" stroke="none" stroke-width="0" />
<rect x="508.81" y="858.20" width="24.19" height="29.60" fill="#f2fcf9" stroke="none" stroke-width="0" />
<rect x="532.70" y="858.20" width="24.19" height="29.60" fill="#fefbfe" stroke="none" stroke-width="0" />
<rect x="556.59" y="858.20" width="24.19" height="29.60" fill="#f4fcfa" stroke="none" stroke-width="0" />
<rect x="293.80" y="887.50" width="24.19" height="29.60" fill="#f2def2" stroke="none" stroke-width="0" />
<rect x="317.69" y="887.50" width="24.19" height="29.60" fill="#e5faf4" stroke="none" stroke-width="0" />
<rect x="341.58" y="887.50" width="24.19" height="29.60" fill="#f8e7f7" stroke="none" stroke-width="0" />
<rect x="365.47" y="887.50" width="24.19" height="29.60" fill="#fefefe" stroke="none" stroke-width="0" />
<rect x="389.36" y="887.50" width="24.19" height="29.60" fill="#fdfefe" stroke="none" stroke-width="0" />
<rect x="413.25" y="887.50" width="24.19" height="29.60" fill="#e6faf4" stroke="none" stroke-width="0" />
<rect x="437.14" y="887.50" width="24.19" height="29.60" fill="#fbf5fc" stroke="none" stroke-width="0" />
<rect x="461.03" y="887.50" width="24.19" height="29.60" fill="#f8fdfb" stroke="none" stroke-width="0" />
<rect x="484.92" y="887.50" width="24.19" height="29.60" fill="#f8e8f7" stroke="none" stroke-width="0" />
<rect x="508.81" y="887.50" width="24.19" height="29.60" fill="#faeff9" stroke="none" stroke-width="0" />
<rect x="532.70" y="887.50" width="24.19" height="29.60" fill="#ffffff" stroke="none" stroke-width="0" />
<rect x="556.59" y="887.50" width="24.19" height="29.60" fill="#fbf5fc" stroke="none" stroke-width="0" />
<text x="544.64" y="791.45" font-size="14" text-anchor="middle" stroke="#000" stroke-width="0.2" fill="#000" >*</text>
<text x="568.54" y="791.45" font-size="14" text-anchor="middle" stroke="#000" stroke-width="0.2" fill="#000" >*</text>
<text x="568.54" y="820.75" font-size="14" text-anchor="middle" stroke="#000" stroke-width="0.2" fill="#000" >*</text>
<text x="568.54" y="850.05" font-size="14" text-anchor="middle" stroke="#000" stroke-width="0.2" fill="#000" >*</text>
<line x1="290.40" y1="784.95" x2="293.30" y2="784.95" stroke="#333" stroke-width="1" />
<text x="285.40" y="787.95" font-size="12.5" text-anchor="end" stroke="#1a1a1a" stroke-width="0.2" font-style="italic" textLength="142.50" lengthAdjust="spacing" >A. cerevisiae|malorum</text>
<line x1="290.40" y1="814.25" x2="293.30" y2="814.25" stroke="#333" stroke-width="1" />
<text x="285.40" y="817.60" font-size="12.5" text-anchor="end" stroke="#1a1a1a" stroke-width="0.2" font-style="italic" textLength="119.10" lengthAdjust="spacing" >F. sanfranciscensis</text>
<line x1="290.40" y1="843.55" x2="293.30" y2="843.55" stroke="#333" stroke-width="1" />
<text x="285.40" y="847.25" font-size="12.5" text-anchor="end" stroke="#1a1a1a" stroke-width="0.2" font-style="italic" textLength="66.00" lengthAdjust="spacing" >P. parvulus</text>
<line x1="290.40" y1="872.85" x2="293.30" y2="872.85" stroke="#333" stroke-width="1" />
<text x="285.40" y="876.90" font-size="12.5" text-anchor="end" stroke="#1a1a1a" stroke-width="0.2" font-style="italic" textLength="60.10" lengthAdjust="spacing" >F. rossiae</text>
<line x1="290.40" y1="902.15" x2="293.30" y2="902.15" stroke="#333" stroke-width="1" />
<text x="285.40" y="906.55" font-size="12.5" text-anchor="end" stroke="#1a1a1a" stroke-width="0.2" font-style="italic" textLength="51.40" lengthAdjust="spacing" >L. brevis</text>
<line x1="305.75" y1="916.80" x2="305.75" y2="920.80" stroke="#333" stroke-width="1" />
<text x="308.35" y="930.20" font-size="13.0" text-anchor="end" stroke="#1a1a1a" stroke-width="0.2" textLength="78.65" lengthAdjust="spacing" transform="rotate(-45 308.35 930.20)" >#Day 1 4 °C</text>
<line x1="329.63" y1="916.80" x2="329.63" y2="920.80" stroke="#333" stroke-width="1" />
<text x="335.63" y="931.60" font-size="13.0" text-anchor="end" stroke="#1a1a1a" stroke-width="0.2" textLength="36.68" lengthAdjust="spacing" transform="rotate(-45 335.63 931.60)" >Day 2</text>
<line x1="353.53" y1="916.80" x2="353.53" y2="920.80" stroke="#333" stroke-width="1" />
<text x="359.53" y="931.60" font-size="13.0" text-anchor="end" stroke="#1a1a1a" stroke-width="0.2" textLength="36.68" lengthAdjust="spacing" transform="rotate(-45 359.53 931.60)" >Day 3</text>
<line x1="377.42" y1="916.80" x2="377.42" y2="920.80" stroke="#333" stroke-width="1" />
<text x="383.42" y="931.60" font-size="13.0" text-anchor="end" stroke="#1a1a1a" stroke-width="0.2" textLength="36.68" lengthAdjust="spacing" transform="rotate(-45 383.42 931.60)" >Day 4</text>
<line x1="401.31" y1="916.80" x2="401.31" y2="920.80" stroke="#333" stroke-width="1" />
<text x="407.31" y="931.60" font-size="13.0" text-anchor="end" stroke="#1a1a1a" stroke-width="0.2" textLength="36.68" lengthAdjust="spacing" transform="rotate(-45 407.31 931.60)" >Day 5</text>
<line x1="425.20" y1="916.80" x2="425.20" y2="920.80" stroke="#333" stroke-width="1" />
<text x="431.20" y="931.60" font-size="13.0" text-anchor="end" stroke="#1a1a1a" stroke-width="0.2" textLength="36.68" lengthAdjust="spacing" transform="rotate(-45 431.20 931.60)" >Day 6</text>
<line x1="449.09" y1="916.80" x2="449.09" y2="920.80" stroke="#333" stroke-width="1" />
<text x="455.09" y="931.60" font-size="13.0" text-anchor="end" stroke="#1a1a1a" stroke-width="0.2" textLength="36.68" lengthAdjust="spacing" transform="rotate(-45 455.09 931.60)" >Day 7</text>
<line x1="472.98" y1="916.80" x2="472.98" y2="920.80" stroke="#333" stroke-width="1" />
<text x="478.98" y="931.60" font-size="13.0" text-anchor="end" stroke="#1a1a1a" stroke-width="0.2" textLength="44.48" lengthAdjust="spacing" transform="rotate(-45 478.98 931.60)" >Day 14</text>
<line x1="496.87" y1="916.80" x2="496.87" y2="920.80" stroke="#333" stroke-width="1" />
<text x="502.87" y="931.60" font-size="13.0" text-anchor="end" stroke="#1a1a1a" stroke-width="0.2" textLength="44.48" lengthAdjust="spacing" transform="rotate(-45 502.87 931.60)" >Day 21</text>
<line x1="520.75" y1="916.80" x2="520.75" y2="920.80" stroke="#333" stroke-width="1" />
<text x="526.75" y="931.60" font-size="13.0" text-anchor="end" stroke="#1a1a1a" stroke-width="0.2" textLength="44.48" lengthAdjust="spacing" transform="rotate(-45 526.75 931.60)" >Day 28</text>
<line x1="544.64" y1="916.80" x2="544.64" y2="920.80" stroke="#333" stroke-width="1" />
<text x="549.25" y="931.60" font-size="13.0" text-anchor="end" stroke="#1a1a1a" stroke-width="0.2" textLength="35.27" lengthAdjust="spacing" transform="rotate(-45 549.25 931.60)" >17 °C</text>
<line x1="568.54" y1="916.80" x2="568.54" y2="920.80" stroke="#333" stroke-width="1" />
<text x="576.14" y="931.60" font-size="13.0" text-anchor="end" stroke="#1a1a1a" stroke-width="0.2" textLength="39.19" lengthAdjust="spacing" transform="rotate(-45 576.14 931.60)" >30 °C</text>
<text x="584.50" y="936.80" font-size="12.5" text-anchor="start" stroke="#1a1a1a" stroke-width="0.2" textLength="67.00" lengthAdjust="spacing" >#reference</text>
<defs><linearGradient id="cb" x1="0" y1="0" x2="0" y2="1"><stop offset="0.000" stop-color="#cf7bd2"/><stop offset="0.050" stop-color="#d489d7"/><stop offset="0.100" stop-color="#d997dc"/><stop offset="0.150" stop-color="#dea5e0"/><stop offset="0.200" stop-color="#e3b3e5"/><stop offset="0.250" stop-color="#e8c1ea"/><stop offset="0.300" stop-color="#eecfef"/><stop offset="0.350" stop-color="#f3ddf3"/><stop offset="0.400" stop-color="#f8ebf8"/><stop offset="0.450" stop-color="#fdf9fd"/><stop offset="0.500" stop-color="#f7fefc"/><stop offset="0.550" stop-color="#eafcf7"/><stop offset="0.600" stop-color="#ddfaf2"/><stop offset="0.650" stop-color="#cff8ed"/><stop offset="0.700" stop-color="#c2f5e8"/><stop offset="0.750" stop-color="#b5f3e4"/><stop offset="0.800" stop-color="#a7f1df"/><stop offset="0.850" stop-color="#9aefda"/><stop offset="0.900" stop-color="#8dedd5"/><stop offset="0.950" stop-color="#7febd0"/><stop offset="1.000" stop-color="#72e9cb"/></linearGradient></defs>
<rect x="598.10" y="769.70" width="7.90" height="147.40" fill="url(#cb)" stroke="none" stroke-width="0" />
<line x1="606.30" y1="785.30" x2="609.30" y2="785.30" stroke="#333" stroke-width="1" />
<text x="612.50" y="789.50" font-size="12.0" text-anchor="start" stroke="#1a1a1a" stroke-width="0.2" >2</text>
<line x1="606.30" y1="812.00" x2="609.30" y2="812.00" stroke="#333" stroke-width="1" />
<text x="612.50" y="816.20" font-size="12.0" text-anchor="start" stroke="#1a1a1a" stroke-width="0.2" >1</text>
<line x1="606.30" y1="838.70" x2="609.30" y2="838.70" stroke="#333" stroke-width="1" />
<text x="612.50" y="842.90" font-size="12.0" text-anchor="start" stroke="#1a1a1a" stroke-width="0.2" >0</text>
<line x1="606.30" y1="865.40" x2="609.30" y2="865.40" stroke="#333" stroke-width="1" />
<text x="612.50" y="869.60" font-size="12.0" text-anchor="start" stroke="#1a1a1a" stroke-width="0.2" >−1</text>
<line x1="606.30" y1="892.10" x2="609.30" y2="892.10" stroke="#333" stroke-width="1" />
<text x="612.50" y="896.30" font-size="12.0" text-anchor="start" stroke="#1a1a1a" stroke-width="0.2" >−2</text>
<text x="641.00" y="884.80" font-size="12.0" text-anchor="start" stroke="#1a1a1a" stroke-width="0.2" textLength="99.70" lengthAdjust="spacing" transform="rotate(-90 641.00 884.80)" >Log fold-change</text>
</svg>
</body></html>
